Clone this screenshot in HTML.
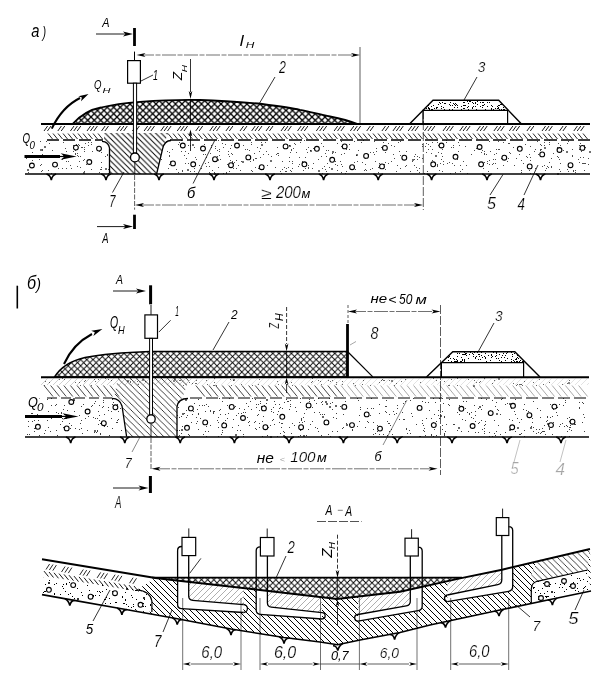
<!DOCTYPE html>
<html><head><meta charset="utf-8"><style>
html,body{margin:0;padding:0;background:#fff;}
svg{display:block;filter:grayscale(1);}
</style></head><body>
<svg width="604" height="680" viewBox="0 0 604 680">
<rect width="604" height="680" fill="#fff"/>

<defs>
<pattern id="xh" patternUnits="userSpaceOnUse" width="6.5" height="6.5">
<path d="M-1,-1 L7.5,7.5 M-1,7.5 L7.5,-1" stroke="#000" stroke-width="1.3"/>
</pattern>
<pattern id="xh2" patternUnits="userSpaceOnUse" width="6.2" height="6.2">
<path d="M-1,-1 L7.2,7.2 M-1,7.2 L7.2,-1" stroke="#000" stroke-width="0.9"/>
</pattern>
<pattern id="bsA" patternUnits="userSpaceOnUse" width="6" height="6">
<path d="M-1,-1 L7,7 M5,-1 L7,1 M-1,5 L1,7" stroke="#000" stroke-width="1.0"/>
</pattern>
<pattern id="bsb" patternUnits="userSpaceOnUse" width="6.2" height="6.2">
<path d="M-1,-1 L7.2,7.2 M5.2,-1 L7.2,1 M-1,5.2 L1,7.2" stroke="#000" stroke-width="0.75"/>
</pattern>
<pattern id="bs" patternUnits="userSpaceOnUse" width="5.6" height="5.6">
<path d="M-1,-1 L6.6,6.6 M4.6,-1 L6.6,1 M-1,4.6 L1,6.6" stroke="#000" stroke-width="0.95"/>
</pattern>
<pattern id="bsl" patternUnits="userSpaceOnUse" width="5.6" height="5.6">
<path d="M-1,-1 L6.6,6.6 M4.6,-1 L6.6,1 M-1,4.6 L1,6.6" stroke="#000" stroke-width="0.7" stroke-opacity="0.45"/>
</pattern>
<pattern id="fsl" patternUnits="userSpaceOnUse" width="6" height="6">
<path d="M-1,7 L7,-1 M5,7 L7,5 M-1,1 L1,-1" stroke="#000" stroke-width="0.7" stroke-opacity="0.45"/>
</pattern>
</defs>

<text font-family="Liberation Sans" font-style="italic" font-size="18.18" transform="translate(31.30,37.22) scale(0.813,1)">a</text>
<text font-family="Liberation Sans" font-style="italic" font-size="15.61" transform="translate(42.58,37.92) scale(0.692,1)">)</text>
<text font-family="Liberation Sans" font-style="italic" font-size="13.62" transform="translate(102.15,26.90) scale(0.801,1)">A</text>
<line x1="96.0" y1="34.0" x2="128.0" y2="34.0" stroke="#000" stroke-width="0.9"/>
<polygon points="133.0,34.0 123.0,36.5 125.5,34.0 123.0,31.5" fill="#000"/>
<line x1="134.5" y1="28.0" x2="134.5" y2="46.0" stroke="#000" stroke-width="2.8"/>
<line x1="134.5" y1="51.6" x2="134.5" y2="60.2" stroke="#000" stroke-width="1.0"/>
<rect x="127.6" y="60.6" width="12.8" height="22.6" fill="#fff" stroke="#000" stroke-width="1.2"/>
<text font-family="Liberation Sans" font-style="italic" font-size="13.26" transform="translate(94.00,89.28) scale(0.725,1)">Q</text>
<text font-family="Liberation Sans" font-style="italic" font-size="8.12" transform="translate(102.50,93.40) scale(1.360,1)">H</text>
<path d="M51.8,128.6 Q62,107 80,98" fill="none" stroke="#000" stroke-width="2.0" />
<polygon points="88.5,94.0 81.0,101.2 81.9,97.5 78.4,96.2" fill="#000"/>
<polygon points="104.0,133.0 168.0,133.0 162.6,148.8 156.6,174.0 109.5,174.0 109.5,148.0 104.0,141.0" fill="url(#bs)" stroke="none" stroke-width="0" />
<path d="M62,159.5h1 M64,157.5h1 M40,157.5h1 M91,144.5h1 M32,167.5h1 M28,172.5h1 M79,161.5h1 M26,158.5h1 M63,155.5h1 M68,161.5h1 M80,156.5h1 M108,173.5h1 M84,151.5h1 M49,143.5h1 M58,168.5h1 M42,170.5h1 M107,154.5h1 M77,166.5h1 M32,152.5h1 M88,145.5h1 M33,143.5h1 M39,159.5h1 M41,164.5h1 M79,145.5h1 M42,150.5h1 M92,151.5h1 M42,154.5h1 M78,144.5h1 M42,149.5h1 M52,150.5h1 M32,160.5h1 M75,153.5h1 M105,156.5h1 M97,147.5h1 M101,167.5h1 M40,165.5h1 M41,171.5h1 M75,154.5h1 M28,172.5h1 M84,149.5h1 M75,150.5h1 M85,143.5h1 M71,168.5h1 M48,170.5h1 M26,150.5h1 M30,147.5h1 M73,145.5h1 M99,172.5h1 M83,160.5h1 M27,142.5h1 M78,156.5h1 M51,173.5h1 M70,165.5h1 M86,164.5h1 M101,152.5h1 M100,169.5h1 M91,169.5h1 M77,153.5h1 M76,144.5h1 M108,169.5h1 M57,165.5h1 M62,168.5h1 M88,142.5h1 M65,148.5h1 M66,161.5h1 M46,141.5h1 M81,147.5h1 M101,162.5h1 M99,151.5h1 M41,155.5h1 M101,169.5h1 M73,151.5h1 M66,168.5h1 M84,171.5h1 M39,155.5h1 M42,154.5h1 M66,151.5h1 M107,155.5h1 M84,159.5h1 M91,142.5h1 M63,142.5h1 M77,155.5h1 M80,167.5h1 M82,147.5h1 M40,141.5h1 M84,147.5h1" stroke="#000" stroke-width="1" stroke-opacity="0.7" fill="none" shape-rendering="crispEdges"/>
<path d="M40,150h2 M105,169h2 M83,173h2 M27,170h2 M44,147h2" stroke="#000" stroke-width="2" stroke-opacity="0.5599999999999999" fill="none" shape-rendering="crispEdges"/>
<path d="M362,162.5h1 M218,140.5h1 M275,167.5h1 M417,159.5h1 M219,155.5h1 M549,142.5h1 M188,163.5h1 M182,171.5h1 M196,173.5h1 M205,154.5h1 M292,161.5h1 M458,142.5h1 M510,153.5h1 M414,156.5h1 M169,164.5h1 M579,162.5h1 M313,163.5h1 M205,148.5h1 M378,167.5h1 M168,168.5h1 M381,147.5h1 M324,166.5h1 M394,146.5h1 M172,149.5h1 M432,142.5h1 M247,149.5h1 M572,156.5h1 M229,171.5h1 M238,165.5h1 M490,151.5h1 M424,173.5h1 M374,141.5h1 M497,168.5h1 M256,158.5h1 M428,149.5h1 M544,145.5h1 M535,149.5h1 M379,163.5h1 M249,150.5h1 M452,163.5h1 M540,154.5h1 M345,173.5h1 M427,171.5h1 M486,154.5h1 M547,166.5h1 M307,152.5h1 M400,141.5h1 M548,167.5h1 M551,158.5h1 M321,143.5h1 M291,171.5h1 M391,161.5h1 M388,163.5h1 M263,154.5h1 M453,145.5h1 M292,163.5h1 M442,171.5h1 M169,156.5h1 M234,162.5h1 M259,151.5h1 M277,147.5h1 M252,171.5h1 M459,145.5h1 M419,168.5h1 M355,169.5h1 M255,158.5h1 M327,163.5h1 M578,159.5h1 M308,165.5h1 M373,152.5h1 M215,148.5h1 M265,142.5h1 M280,171.5h1 M325,169.5h1 M295,144.5h1 M521,160.5h1 M335,161.5h1 M332,153.5h1 M329,167.5h1 M245,149.5h1 M383,142.5h1 M535,168.5h1 M474,150.5h1 M531,168.5h1 M537,141.5h1 M227,164.5h1 M238,146.5h1 M530,160.5h1 M453,158.5h1 M385,162.5h1 M375,161.5h1 M431,153.5h1 M380,164.5h1 M557,156.5h1 M455,172.5h1 M341,154.5h1 M483,168.5h1 M183,144.5h1 M181,140.5h1 M205,163.5h1 M575,172.5h1 M568,141.5h1 M557,156.5h1 M484,154.5h1 M293,148.5h1 M419,172.5h1 M488,171.5h1 M285,171.5h1 M446,140.5h1 M365,164.5h1 M484,151.5h1 M530,173.5h1 M241,161.5h1 M313,148.5h1 M422,144.5h1 M569,165.5h1 M337,143.5h1 M430,146.5h1 M414,159.5h1 M290,152.5h1 M299,157.5h1 M231,153.5h1 M296,152.5h1 M563,150.5h1 M441,153.5h1 M437,142.5h1 M200,148.5h1 M585,163.5h1 M346,149.5h1 M257,147.5h1 M432,160.5h1 M572,155.5h1 M326,156.5h1 M466,165.5h1 M384,164.5h1 M443,161.5h1 M542,166.5h1 M575,170.5h1 M519,154.5h1 M268,154.5h1 M178,144.5h1 M225,144.5h1 M321,156.5h1 M560,145.5h1 M529,170.5h1 M385,152.5h1 M551,166.5h1 M499,149.5h1 M549,144.5h1 M236,168.5h1 M370,152.5h1 M190,171.5h1 M400,168.5h1 M394,158.5h1 M501,158.5h1 M585,147.5h1 M503,165.5h1 M493,163.5h1 M438,152.5h1 M579,145.5h1 M214,172.5h1 M233,168.5h1 M580,147.5h1 M442,149.5h1 M460,165.5h1 M482,150.5h1 M426,152.5h1 M368,154.5h1 M402,158.5h1 M584,170.5h1 M534,151.5h1 M181,151.5h1 M443,164.5h1 M209,172.5h1 M232,154.5h1 M450,173.5h1 M346,171.5h1 M178,172.5h1 M442,156.5h1 M251,142.5h1 M364,170.5h1 M379,163.5h1 M492,164.5h1 M523,163.5h1 M229,156.5h1 M223,147.5h1 M232,161.5h1 M584,163.5h1 M344,153.5h1 M573,171.5h1 M438,145.5h1 M228,151.5h1 M230,148.5h1 M366,170.5h1 M194,171.5h1 M457,159.5h1 M580,157.5h1 M219,149.5h1 M263,169.5h1 M190,145.5h1 M567,169.5h1 M341,141.5h1 M211,147.5h1 M530,146.5h1 M549,140.5h1 M217,150.5h1 M346,171.5h1 M388,143.5h1 M284,167.5h1 M167,151.5h1 M222,143.5h1 M541,149.5h1 M208,162.5h1 M414,165.5h1 M345,173.5h1 M568,171.5h1 M202,149.5h1 M540,149.5h1 M363,140.5h1 M560,163.5h1 M553,153.5h1 M440,163.5h1 M541,145.5h1 M454,165.5h1 M291,150.5h1 M176,169.5h1 M326,150.5h1 M231,145.5h1 M213,161.5h1 M310,150.5h1 M203,154.5h1 M182,145.5h1 M467,173.5h1 M476,148.5h1 M583,163.5h1 M218,167.5h1 M194,147.5h1 M426,143.5h1 M481,152.5h1 M215,146.5h1 M341,146.5h1 M349,144.5h1 M361,142.5h1 M489,164.5h1 M228,154.5h1 M582,163.5h1 M182,170.5h1 M493,159.5h1 M365,169.5h1 M393,154.5h1 M410,171.5h1 M299,164.5h1 M365,158.5h1 M188,145.5h1 M425,146.5h1 M538,154.5h1 M415,154.5h1 M233,163.5h1 M583,157.5h1 M558,143.5h1 M498,149.5h1 M400,155.5h1 M354,162.5h1 M462,169.5h1 M391,145.5h1 M544,142.5h1 M210,153.5h1 M169,155.5h1 M323,146.5h1 M567,143.5h1 M432,149.5h1 M453,147.5h1 M557,147.5h1 M353,166.5h1 M487,161.5h1 M196,159.5h1 M484,153.5h1 M322,168.5h1 M446,142.5h1 M271,156.5h1 M260,157.5h1 M509,143.5h1 M527,157.5h1 M573,170.5h1 M417,156.5h1 M199,165.5h1 M412,161.5h1 M422,146.5h1 M318,159.5h1 M580,143.5h1 M292,168.5h1 M551,167.5h1 M487,163.5h1 M285,145.5h1 M328,150.5h1 M584,145.5h1 M255,167.5h1 M489,160.5h1 M525,144.5h1 M572,149.5h1 M449,162.5h1 M337,170.5h1 M231,163.5h1 M417,170.5h1 M282,169.5h1 M211,145.5h1 M513,147.5h1 M406,165.5h1 M428,144.5h1 M496,153.5h1 M416,167.5h1 M288,167.5h1 M341,164.5h1 M406,151.5h1 M290,170.5h1 M422,158.5h1 M232,162.5h1 M305,157.5h1 M437,166.5h1 M226,172.5h1 M294,143.5h1 M251,170.5h1 M276,154.5h1 M253,159.5h1 M341,172.5h1 M201,168.5h1 M278,155.5h1 M251,144.5h1 M441,159.5h1 M529,154.5h1 M540,144.5h1 M340,161.5h1 M260,148.5h1 M286,171.5h1 M471,154.5h1 M405,166.5h1 M209,166.5h1 M195,157.5h1 M549,162.5h1 M559,169.5h1 M546,168.5h1 M489,141.5h1 M403,157.5h1 M376,151.5h1 M169,152.5h1 M354,141.5h1 M558,157.5h1 M322,173.5h1 M507,161.5h1 M326,171.5h1 M545,170.5h1 M303,170.5h1 M398,142.5h1 M253,160.5h1 M298,166.5h1 M335,164.5h1 M439,170.5h1 M376,148.5h1 M357,161.5h1 M374,154.5h1 M229,171.5h1 M372,168.5h1 M588,164.5h1 M342,166.5h1 M161,159.5h1 M312,168.5h1 M540,150.5h1 M399,151.5h1 M194,168.5h1 M306,149.5h1 M370,169.5h1 M305,168.5h1 M184,155.5h1 M581,151.5h1 M300,142.5h1 M210,173.5h1 M526,156.5h1 M230,160.5h1 M188,153.5h1 M289,161.5h1 M499,149.5h1 M508,143.5h1 M397,165.5h1 M447,163.5h1 M240,170.5h1 M261,142.5h1 M498,141.5h1 M206,157.5h1 M266,151.5h1 M496,149.5h1 M579,149.5h1 M560,171.5h1 M385,169.5h1 M304,140.5h1 M419,157.5h1 M349,149.5h1 M217,156.5h1 M236,160.5h1 M458,151.5h1 M204,144.5h1 M463,161.5h1 M308,168.5h1 M514,165.5h1 M509,152.5h1 M521,172.5h1 M243,145.5h1 M289,145.5h1 M337,165.5h1 M378,172.5h1 M325,153.5h1 M219,151.5h1 M216,161.5h1 M286,168.5h1 M349,149.5h1 M437,165.5h1 M588,158.5h1 M206,166.5h1 M291,149.5h1 M289,157.5h1 M258,168.5h1 M530,157.5h1 M544,165.5h1 M460,171.5h1 M267,165.5h1 M254,153.5h1 M503,142.5h1 M356,155.5h1 M465,146.5h1 M186,158.5h1 M494,154.5h1 M226,173.5h1 M451,147.5h1 M484,162.5h1 M308,167.5h1 M437,164.5h1 M396,171.5h1 M482,164.5h1 M185,163.5h1 M212,170.5h1 M358,150.5h1 M282,161.5h1 M480,145.5h1 M516,158.5h1 M521,170.5h1 M250,161.5h1 M278,153.5h1 M166,141.5h1 M559,159.5h1 M220,159.5h1 M185,151.5h1 M495,159.5h1 M277,153.5h1 M281,173.5h1 M302,161.5h1 M508,158.5h1 M179,142.5h1 M495,163.5h1 M335,152.5h1 M308,147.5h1 M223,173.5h1" stroke="#000" stroke-width="1" stroke-opacity="0.7" fill="none" shape-rendering="crispEdges"/>
<path d="M331,169h2 M310,151h2 M435,156h2 M318,171h2 M192,145h2 M344,147h2 M187,170h2 M557,174h2 M566,152h2 M289,146h2 M242,162h2 M332,152h2 M544,148h2 M412,160h2 M214,174h2 M480,147h2 M331,169h2 M261,145h2 M589,152h2 M356,155h2 M270,161h2 M217,160h2 M170,162h2" stroke="#000" stroke-width="2" stroke-opacity="0.5599999999999999" fill="none" shape-rendering="crispEdges"/>
<path d="M109.5,173.5 L109.5,148 Q108.5,141.5 102,141.3" fill="none" stroke="#000" stroke-width="1.3" />
<path d="M156.6,174 L162.6,148.8 Q164.5,140.5 171,140.5" fill="none" stroke="#000" stroke-width="1.3" />
<circle cx="31.9" cy="165.5" r="2.4" fill="#fff" stroke="#000" stroke-width="1.1"/>
<circle cx="55" cy="164.6" r="2.4" fill="#fff" stroke="#000" stroke-width="1.1"/>
<circle cx="75.9" cy="147.6" r="2.4" fill="#fff" stroke="#000" stroke-width="1.1"/>
<circle cx="99" cy="148.6" r="2.4" fill="#fff" stroke="#000" stroke-width="1.1"/>
<circle cx="89.3" cy="162" r="2.4" fill="#fff" stroke="#000" stroke-width="1.1"/>
<circle cx="173" cy="163.4" r="2.4" fill="#fff" stroke="#000" stroke-width="1.1"/>
<circle cx="182.8" cy="145.5" r="2.4" fill="#fff" stroke="#000" stroke-width="1.1"/>
<circle cx="193.2" cy="164.3" r="2.4" fill="#fff" stroke="#000" stroke-width="1.1"/>
<circle cx="203" cy="148.5" r="2.4" fill="#fff" stroke="#000" stroke-width="1.1"/>
<circle cx="215" cy="159.2" r="2.4" fill="#fff" stroke="#000" stroke-width="1.1"/>
<circle cx="231" cy="165.2" r="2.4" fill="#fff" stroke="#000" stroke-width="1.1"/>
<circle cx="237" cy="145.5" r="2.4" fill="#fff" stroke="#000" stroke-width="1.1"/>
<circle cx="248.3" cy="157.4" r="2.4" fill="#fff" stroke="#000" stroke-width="1.1"/>
<circle cx="261.7" cy="167.2" r="2.4" fill="#fff" stroke="#000" stroke-width="1.1"/>
<circle cx="285.6" cy="146.4" r="2.4" fill="#fff" stroke="#000" stroke-width="1.1"/>
<circle cx="304.4" cy="164.3" r="2.4" fill="#fff" stroke="#000" stroke-width="1.1"/>
<circle cx="316.9" cy="148.8" r="2.4" fill="#fff" stroke="#000" stroke-width="1.1"/>
<circle cx="332.2" cy="159.8" r="2.4" fill="#fff" stroke="#000" stroke-width="1.1"/>
<circle cx="344.7" cy="146.4" r="2.4" fill="#fff" stroke="#000" stroke-width="1.1"/>
<circle cx="352.1" cy="167.2" r="2.4" fill="#fff" stroke="#000" stroke-width="1.1"/>
<circle cx="366.1" cy="155.9" r="2.4" fill="#fff" stroke="#000" stroke-width="1.1"/>
<circle cx="384.9" cy="147.9" r="2.4" fill="#fff" stroke="#000" stroke-width="1.1"/>
<circle cx="382" cy="166.4" r="2.4" fill="#fff" stroke="#000" stroke-width="1.1"/>
<circle cx="404.3" cy="157.7" r="2.4" fill="#fff" stroke="#000" stroke-width="1.1"/>
<circle cx="433.2" cy="164.3" r="2.4" fill="#fff" stroke="#000" stroke-width="1.1"/>
<circle cx="441.5" cy="145.5" r="2.4" fill="#fff" stroke="#000" stroke-width="1.1"/>
<circle cx="455.5" cy="156.8" r="2.4" fill="#fff" stroke="#000" stroke-width="1.1"/>
<circle cx="479.6" cy="147" r="2.4" fill="#fff" stroke="#000" stroke-width="1.1"/>
<circle cx="481.1" cy="164.3" r="2.4" fill="#fff" stroke="#000" stroke-width="1.1"/>
<circle cx="504.3" cy="157.7" r="2.4" fill="#fff" stroke="#000" stroke-width="1.1"/>
<circle cx="519.8" cy="148.8" r="2.4" fill="#fff" stroke="#000" stroke-width="1.1"/>
<circle cx="529.7" cy="166.4" r="2.4" fill="#fff" stroke="#000" stroke-width="1.1"/>
<circle cx="542.2" cy="154.4" r="2.4" fill="#fff" stroke="#000" stroke-width="1.1"/>
<circle cx="559.5" cy="150" r="2.4" fill="#fff" stroke="#000" stroke-width="1.1"/>
<circle cx="570.5" cy="165.2" r="2.4" fill="#fff" stroke="#000" stroke-width="1.1"/>
<circle cx="582.4" cy="147.9" r="2.4" fill="#fff" stroke="#000" stroke-width="1.1"/>
<line x1="25.0" y1="174.0" x2="590.0" y2="174.0" stroke="#000" stroke-width="1.6"/>
<path d="M46.5,174.0 Q50.3,175.0 51.3,180.0 Q52.3,175.0 56.1,174.0" fill="none" stroke="#000" stroke-width="1.6" />
<path d="M101.2,174.0 Q105.0,175.0 106.0,180.0 Q107.0,175.0 110.8,174.0" fill="none" stroke="#000" stroke-width="1.6" />
<path d="M154.2,174.0 Q158.0,175.0 159.0,180.0 Q160.0,175.0 163.8,174.0" fill="none" stroke="#000" stroke-width="1.6" />
<path d="M209.2,174.0 Q213.0,175.0 214.0,180.0 Q215.0,175.0 218.8,174.0" fill="none" stroke="#000" stroke-width="1.6" />
<path d="M265.2,174.0 Q269.0,175.0 270.0,180.0 Q271.0,175.0 274.8,174.0" fill="none" stroke="#000" stroke-width="1.6" />
<path d="M318.8,174.0 Q322.6,175.0 323.6,180.0 Q324.6,175.0 328.4,174.0" fill="none" stroke="#000" stroke-width="1.6" />
<path d="M373.4,174.0 Q377.2,175.0 378.2,180.0 Q379.2,175.0 383.0,174.0" fill="none" stroke="#000" stroke-width="1.6" />
<path d="M426.8,174.0 Q430.6,175.0 431.6,180.0 Q432.6,175.0 436.4,174.0" fill="none" stroke="#000" stroke-width="1.6" />
<path d="M482.2,174.0 Q486.0,175.0 487.0,180.0 Q488.0,175.0 491.8,174.0" fill="none" stroke="#000" stroke-width="1.6" />
<path d="M535.7,174.0 Q539.5,175.0 540.5,180.0 Q541.5,175.0 545.3,174.0" fill="none" stroke="#000" stroke-width="1.6" />
<line x1="44.0" y1="131.0" x2="47.6" y2="126.0" stroke="#000" stroke-width="0.9"/>
<line x1="47.4" y1="131.0" x2="51.0" y2="126.0" stroke="#000" stroke-width="0.9"/>
<line x1="57.8" y1="131.0" x2="61.4" y2="126.0" stroke="#000" stroke-width="0.9"/>
<line x1="61.2" y1="131.0" x2="64.8" y2="126.0" stroke="#000" stroke-width="0.9"/>
<line x1="70.4" y1="131.0" x2="74.0" y2="126.0" stroke="#000" stroke-width="0.9"/>
<line x1="73.8" y1="131.0" x2="77.4" y2="126.0" stroke="#000" stroke-width="0.9"/>
<line x1="77.2" y1="131.0" x2="80.8" y2="126.0" stroke="#000" stroke-width="0.9"/>
<line x1="87.0" y1="131.0" x2="90.6" y2="126.0" stroke="#000" stroke-width="0.9"/>
<line x1="90.4" y1="131.0" x2="94.0" y2="126.0" stroke="#000" stroke-width="0.9"/>
<line x1="93.8" y1="131.0" x2="97.4" y2="126.0" stroke="#000" stroke-width="0.9"/>
<line x1="101.5" y1="131.0" x2="105.1" y2="126.0" stroke="#000" stroke-width="0.9"/>
<line x1="104.9" y1="131.0" x2="108.5" y2="126.0" stroke="#000" stroke-width="0.9"/>
<line x1="116.9" y1="131.0" x2="120.5" y2="126.0" stroke="#000" stroke-width="0.9"/>
<line x1="120.3" y1="131.0" x2="123.9" y2="126.0" stroke="#000" stroke-width="0.9"/>
<line x1="123.7" y1="131.0" x2="127.3" y2="126.0" stroke="#000" stroke-width="0.9"/>
<line x1="132.4" y1="131.0" x2="136.0" y2="126.0" stroke="#000" stroke-width="0.9"/>
<line x1="135.8" y1="131.0" x2="139.4" y2="126.0" stroke="#000" stroke-width="0.9"/>
<line x1="144.1" y1="131.0" x2="147.7" y2="126.0" stroke="#000" stroke-width="0.9"/>
<line x1="147.5" y1="131.0" x2="151.1" y2="126.0" stroke="#000" stroke-width="0.9"/>
<line x1="150.9" y1="131.0" x2="154.5" y2="126.0" stroke="#000" stroke-width="0.9"/>
<line x1="160.7" y1="131.0" x2="164.3" y2="126.0" stroke="#000" stroke-width="0.9"/>
<line x1="164.1" y1="131.0" x2="167.7" y2="126.0" stroke="#000" stroke-width="0.9"/>
<line x1="167.5" y1="131.0" x2="171.1" y2="126.0" stroke="#000" stroke-width="0.9"/>
<line x1="177.2" y1="131.0" x2="180.8" y2="126.0" stroke="#000" stroke-width="0.9"/>
<line x1="180.6" y1="131.0" x2="184.2" y2="126.0" stroke="#000" stroke-width="0.9"/>
<line x1="184.0" y1="131.0" x2="187.6" y2="126.0" stroke="#000" stroke-width="0.9"/>
<line x1="195.7" y1="131.0" x2="199.3" y2="126.0" stroke="#000" stroke-width="0.9"/>
<line x1="199.1" y1="131.0" x2="202.7" y2="126.0" stroke="#000" stroke-width="0.9"/>
<line x1="209.7" y1="131.0" x2="213.3" y2="126.0" stroke="#000" stroke-width="0.9"/>
<line x1="213.1" y1="131.0" x2="216.7" y2="126.0" stroke="#000" stroke-width="0.9"/>
<line x1="216.5" y1="131.0" x2="220.1" y2="126.0" stroke="#000" stroke-width="0.9"/>
<line x1="225.9" y1="131.0" x2="229.5" y2="126.0" stroke="#000" stroke-width="0.9"/>
<line x1="229.3" y1="131.0" x2="232.9" y2="126.0" stroke="#000" stroke-width="0.9"/>
<line x1="240.0" y1="131.0" x2="243.6" y2="126.0" stroke="#000" stroke-width="0.9"/>
<line x1="243.4" y1="131.0" x2="247.0" y2="126.0" stroke="#000" stroke-width="0.9"/>
<line x1="251.6" y1="131.0" x2="255.2" y2="126.0" stroke="#000" stroke-width="0.9"/>
<line x1="255.0" y1="131.0" x2="258.6" y2="126.0" stroke="#000" stroke-width="0.9"/>
<line x1="258.4" y1="131.0" x2="262.0" y2="126.0" stroke="#000" stroke-width="0.9"/>
<line x1="266.0" y1="131.0" x2="269.6" y2="126.0" stroke="#000" stroke-width="0.9"/>
<line x1="269.4" y1="131.0" x2="273.0" y2="126.0" stroke="#000" stroke-width="0.9"/>
<line x1="281.0" y1="131.0" x2="284.6" y2="126.0" stroke="#000" stroke-width="0.9"/>
<line x1="284.4" y1="131.0" x2="288.0" y2="126.0" stroke="#000" stroke-width="0.9"/>
<line x1="287.8" y1="131.0" x2="291.4" y2="126.0" stroke="#000" stroke-width="0.9"/>
<line x1="297.5" y1="131.0" x2="301.1" y2="126.0" stroke="#000" stroke-width="0.9"/>
<line x1="300.9" y1="131.0" x2="304.5" y2="126.0" stroke="#000" stroke-width="0.9"/>
<line x1="304.3" y1="131.0" x2="307.9" y2="126.0" stroke="#000" stroke-width="0.9"/>
<line x1="316.3" y1="131.0" x2="319.9" y2="126.0" stroke="#000" stroke-width="0.9"/>
<line x1="319.7" y1="131.0" x2="323.3" y2="126.0" stroke="#000" stroke-width="0.9"/>
<line x1="323.1" y1="131.0" x2="326.7" y2="126.0" stroke="#000" stroke-width="0.9"/>
<line x1="334.1" y1="131.0" x2="337.7" y2="126.0" stroke="#000" stroke-width="0.9"/>
<line x1="337.5" y1="131.0" x2="341.1" y2="126.0" stroke="#000" stroke-width="0.9"/>
<line x1="340.9" y1="131.0" x2="344.5" y2="126.0" stroke="#000" stroke-width="0.9"/>
<line x1="350.3" y1="131.0" x2="353.9" y2="126.0" stroke="#000" stroke-width="0.9"/>
<line x1="353.7" y1="131.0" x2="357.3" y2="126.0" stroke="#000" stroke-width="0.9"/>
<line x1="357.1" y1="131.0" x2="360.7" y2="126.0" stroke="#000" stroke-width="0.9"/>
<line x1="366.7" y1="131.0" x2="370.3" y2="126.0" stroke="#000" stroke-width="0.9"/>
<line x1="370.1" y1="131.0" x2="373.7" y2="126.0" stroke="#000" stroke-width="0.9"/>
<line x1="381.9" y1="131.0" x2="385.5" y2="126.0" stroke="#000" stroke-width="0.9"/>
<line x1="385.3" y1="131.0" x2="388.9" y2="126.0" stroke="#000" stroke-width="0.9"/>
<line x1="392.9" y1="131.0" x2="396.5" y2="126.0" stroke="#000" stroke-width="0.9"/>
<line x1="396.3" y1="131.0" x2="399.9" y2="126.0" stroke="#000" stroke-width="0.9"/>
<line x1="399.7" y1="131.0" x2="403.3" y2="126.0" stroke="#000" stroke-width="0.9"/>
<line x1="408.2" y1="131.0" x2="411.8" y2="126.0" stroke="#000" stroke-width="0.9"/>
<line x1="411.6" y1="131.0" x2="415.2" y2="126.0" stroke="#000" stroke-width="0.9"/>
<line x1="415.0" y1="131.0" x2="418.6" y2="126.0" stroke="#000" stroke-width="0.9"/>
<line x1="424.5" y1="131.0" x2="428.1" y2="126.0" stroke="#000" stroke-width="0.9"/>
<line x1="427.9" y1="131.0" x2="431.5" y2="126.0" stroke="#000" stroke-width="0.9"/>
<line x1="431.3" y1="131.0" x2="434.9" y2="126.0" stroke="#000" stroke-width="0.9"/>
<line x1="443.0" y1="131.0" x2="446.6" y2="126.0" stroke="#000" stroke-width="0.9"/>
<line x1="446.4" y1="131.0" x2="450.0" y2="126.0" stroke="#000" stroke-width="0.9"/>
<line x1="449.8" y1="131.0" x2="453.4" y2="126.0" stroke="#000" stroke-width="0.9"/>
<line x1="459.7" y1="131.0" x2="463.3" y2="126.0" stroke="#000" stroke-width="0.9"/>
<line x1="463.1" y1="131.0" x2="466.7" y2="126.0" stroke="#000" stroke-width="0.9"/>
<line x1="466.5" y1="131.0" x2="470.1" y2="126.0" stroke="#000" stroke-width="0.9"/>
<line x1="476.8" y1="131.0" x2="480.4" y2="126.0" stroke="#000" stroke-width="0.9"/>
<line x1="480.2" y1="131.0" x2="483.8" y2="126.0" stroke="#000" stroke-width="0.9"/>
<line x1="483.6" y1="131.0" x2="487.2" y2="126.0" stroke="#000" stroke-width="0.9"/>
<line x1="493.9" y1="131.0" x2="497.5" y2="126.0" stroke="#000" stroke-width="0.9"/>
<line x1="497.3" y1="131.0" x2="500.9" y2="126.0" stroke="#000" stroke-width="0.9"/>
<line x1="500.7" y1="131.0" x2="504.3" y2="126.0" stroke="#000" stroke-width="0.9"/>
<line x1="509.3" y1="131.0" x2="512.9" y2="126.0" stroke="#000" stroke-width="0.9"/>
<line x1="512.7" y1="131.0" x2="516.3" y2="126.0" stroke="#000" stroke-width="0.9"/>
<line x1="516.1" y1="131.0" x2="519.7" y2="126.0" stroke="#000" stroke-width="0.9"/>
<line x1="526.9" y1="131.0" x2="530.5" y2="126.0" stroke="#000" stroke-width="0.9"/>
<line x1="530.3" y1="131.0" x2="533.9" y2="126.0" stroke="#000" stroke-width="0.9"/>
<line x1="542.0" y1="131.0" x2="545.6" y2="126.0" stroke="#000" stroke-width="0.9"/>
<line x1="545.4" y1="131.0" x2="549.0" y2="126.0" stroke="#000" stroke-width="0.9"/>
<line x1="548.8" y1="131.0" x2="552.4" y2="126.0" stroke="#000" stroke-width="0.9"/>
<line x1="559.5" y1="131.0" x2="563.1" y2="126.0" stroke="#000" stroke-width="0.9"/>
<line x1="562.9" y1="131.0" x2="566.5" y2="126.0" stroke="#000" stroke-width="0.9"/>
<line x1="573.8" y1="131.0" x2="577.4" y2="126.0" stroke="#000" stroke-width="0.9"/>
<line x1="577.2" y1="131.0" x2="580.8" y2="126.0" stroke="#000" stroke-width="0.9"/>
<line x1="580.6" y1="131.0" x2="584.2" y2="126.0" stroke="#000" stroke-width="0.9"/>
<line x1="48.0" y1="133.5" x2="52.5" y2="139.0" stroke="#000" stroke-width="0.85"/>
<line x1="53.0" y1="133.5" x2="57.5" y2="139.0" stroke="#000" stroke-width="0.85"/>
<line x1="58.0" y1="133.5" x2="62.5" y2="139.0" stroke="#000" stroke-width="0.85"/>
<line x1="63.0" y1="133.5" x2="67.5" y2="139.0" stroke="#000" stroke-width="0.85"/>
<line x1="68.0" y1="133.5" x2="72.5" y2="139.0" stroke="#000" stroke-width="0.85"/>
<line x1="73.0" y1="133.5" x2="77.5" y2="139.0" stroke="#000" stroke-width="0.85"/>
<line x1="78.0" y1="133.5" x2="82.5" y2="139.0" stroke="#000" stroke-width="0.85"/>
<line x1="83.0" y1="133.5" x2="87.5" y2="139.0" stroke="#000" stroke-width="0.85"/>
<line x1="88.0" y1="133.5" x2="92.5" y2="139.0" stroke="#000" stroke-width="0.85"/>
<line x1="93.0" y1="133.5" x2="97.5" y2="139.0" stroke="#000" stroke-width="0.85"/>
<line x1="98.0" y1="133.5" x2="102.5" y2="139.0" stroke="#000" stroke-width="0.85"/>
<line x1="168.0" y1="133.5" x2="172.5" y2="139.0" stroke="#000" stroke-width="0.85"/>
<line x1="173.0" y1="133.5" x2="177.5" y2="139.0" stroke="#000" stroke-width="0.85"/>
<line x1="178.0" y1="133.5" x2="182.5" y2="139.0" stroke="#000" stroke-width="0.85"/>
<line x1="183.0" y1="133.5" x2="187.5" y2="139.0" stroke="#000" stroke-width="0.85"/>
<line x1="188.0" y1="133.5" x2="192.5" y2="139.0" stroke="#000" stroke-width="0.85"/>
<line x1="193.0" y1="133.5" x2="197.5" y2="139.0" stroke="#000" stroke-width="0.85"/>
<line x1="198.0" y1="133.5" x2="202.5" y2="139.0" stroke="#000" stroke-width="0.85"/>
<line x1="203.0" y1="133.5" x2="207.5" y2="139.0" stroke="#000" stroke-width="0.85"/>
<line x1="208.0" y1="133.5" x2="212.5" y2="139.0" stroke="#000" stroke-width="0.85"/>
<line x1="213.0" y1="133.5" x2="217.5" y2="139.0" stroke="#000" stroke-width="0.85"/>
<line x1="218.0" y1="133.5" x2="222.5" y2="139.0" stroke="#000" stroke-width="0.85"/>
<line x1="223.0" y1="133.5" x2="227.5" y2="139.0" stroke="#000" stroke-width="0.85"/>
<line x1="228.0" y1="133.5" x2="232.5" y2="139.0" stroke="#000" stroke-width="0.85"/>
<line x1="233.0" y1="133.5" x2="237.5" y2="139.0" stroke="#000" stroke-width="0.85"/>
<line x1="238.0" y1="133.5" x2="242.5" y2="139.0" stroke="#000" stroke-width="0.85"/>
<line x1="243.0" y1="133.5" x2="247.5" y2="139.0" stroke="#000" stroke-width="0.85"/>
<line x1="248.0" y1="133.5" x2="252.5" y2="139.0" stroke="#000" stroke-width="0.85"/>
<line x1="253.0" y1="133.5" x2="257.5" y2="139.0" stroke="#000" stroke-width="0.85"/>
<line x1="258.0" y1="133.5" x2="262.5" y2="139.0" stroke="#000" stroke-width="0.85"/>
<line x1="263.0" y1="133.5" x2="267.5" y2="139.0" stroke="#000" stroke-width="0.85"/>
<line x1="268.0" y1="133.5" x2="272.5" y2="139.0" stroke="#000" stroke-width="0.85"/>
<line x1="273.0" y1="133.5" x2="277.5" y2="139.0" stroke="#000" stroke-width="0.85"/>
<line x1="278.0" y1="133.5" x2="282.5" y2="139.0" stroke="#000" stroke-width="0.85"/>
<line x1="283.0" y1="133.5" x2="287.5" y2="139.0" stroke="#000" stroke-width="0.85"/>
<line x1="288.0" y1="133.5" x2="292.5" y2="139.0" stroke="#000" stroke-width="0.85"/>
<line x1="293.0" y1="133.5" x2="297.5" y2="139.0" stroke="#000" stroke-width="0.85"/>
<line x1="298.0" y1="133.5" x2="302.5" y2="139.0" stroke="#000" stroke-width="0.85"/>
<line x1="303.0" y1="133.5" x2="307.5" y2="139.0" stroke="#000" stroke-width="0.85"/>
<line x1="308.0" y1="133.5" x2="312.5" y2="139.0" stroke="#000" stroke-width="0.85"/>
<line x1="313.0" y1="133.5" x2="317.5" y2="139.0" stroke="#000" stroke-width="0.85"/>
<line x1="318.0" y1="133.5" x2="322.5" y2="139.0" stroke="#000" stroke-width="0.85"/>
<line x1="323.0" y1="133.5" x2="327.5" y2="139.0" stroke="#000" stroke-width="0.85"/>
<line x1="328.0" y1="133.5" x2="332.5" y2="139.0" stroke="#000" stroke-width="0.85"/>
<line x1="333.0" y1="133.5" x2="337.5" y2="139.0" stroke="#000" stroke-width="0.85"/>
<line x1="338.0" y1="133.5" x2="342.5" y2="139.0" stroke="#000" stroke-width="0.85"/>
<line x1="343.0" y1="133.5" x2="347.5" y2="139.0" stroke="#000" stroke-width="0.85"/>
<line x1="348.0" y1="133.5" x2="352.5" y2="139.0" stroke="#000" stroke-width="0.85"/>
<line x1="353.0" y1="133.5" x2="357.5" y2="139.0" stroke="#000" stroke-width="0.85"/>
<line x1="358.0" y1="133.5" x2="362.5" y2="139.0" stroke="#000" stroke-width="0.85"/>
<line x1="363.0" y1="133.5" x2="367.5" y2="139.0" stroke="#000" stroke-width="0.85"/>
<line x1="368.0" y1="133.5" x2="372.5" y2="139.0" stroke="#000" stroke-width="0.85"/>
<line x1="373.0" y1="133.5" x2="377.5" y2="139.0" stroke="#000" stroke-width="0.85"/>
<line x1="378.0" y1="133.5" x2="382.5" y2="139.0" stroke="#000" stroke-width="0.85"/>
<line x1="383.0" y1="133.5" x2="387.5" y2="139.0" stroke="#000" stroke-width="0.85"/>
<line x1="388.0" y1="133.5" x2="392.5" y2="139.0" stroke="#000" stroke-width="0.85"/>
<line x1="393.0" y1="133.5" x2="397.5" y2="139.0" stroke="#000" stroke-width="0.85"/>
<line x1="398.0" y1="133.5" x2="402.5" y2="139.0" stroke="#000" stroke-width="0.85"/>
<line x1="403.0" y1="133.5" x2="407.5" y2="139.0" stroke="#000" stroke-width="0.85"/>
<line x1="408.0" y1="133.5" x2="412.5" y2="139.0" stroke="#000" stroke-width="0.85"/>
<line x1="413.0" y1="133.5" x2="417.5" y2="139.0" stroke="#000" stroke-width="0.85"/>
<line x1="418.0" y1="133.5" x2="422.5" y2="139.0" stroke="#000" stroke-width="0.85"/>
<line x1="423.0" y1="133.5" x2="427.5" y2="139.0" stroke="#000" stroke-width="0.85"/>
<line x1="428.0" y1="133.5" x2="432.5" y2="139.0" stroke="#000" stroke-width="0.85"/>
<line x1="433.0" y1="133.5" x2="437.5" y2="139.0" stroke="#000" stroke-width="0.85"/>
<line x1="438.0" y1="133.5" x2="442.5" y2="139.0" stroke="#000" stroke-width="0.85"/>
<line x1="443.0" y1="133.5" x2="447.5" y2="139.0" stroke="#000" stroke-width="0.85"/>
<line x1="448.0" y1="133.5" x2="452.5" y2="139.0" stroke="#000" stroke-width="0.85"/>
<line x1="453.0" y1="133.5" x2="457.5" y2="139.0" stroke="#000" stroke-width="0.85"/>
<line x1="458.0" y1="133.5" x2="462.5" y2="139.0" stroke="#000" stroke-width="0.85"/>
<line x1="463.0" y1="133.5" x2="467.5" y2="139.0" stroke="#000" stroke-width="0.85"/>
<line x1="468.0" y1="133.5" x2="472.5" y2="139.0" stroke="#000" stroke-width="0.85"/>
<line x1="473.0" y1="133.5" x2="477.5" y2="139.0" stroke="#000" stroke-width="0.85"/>
<line x1="478.0" y1="133.5" x2="482.5" y2="139.0" stroke="#000" stroke-width="0.85"/>
<line x1="483.0" y1="133.5" x2="487.5" y2="139.0" stroke="#000" stroke-width="0.85"/>
<line x1="488.0" y1="133.5" x2="492.5" y2="139.0" stroke="#000" stroke-width="0.85"/>
<line x1="493.0" y1="133.5" x2="497.5" y2="139.0" stroke="#000" stroke-width="0.85"/>
<line x1="498.0" y1="133.5" x2="502.5" y2="139.0" stroke="#000" stroke-width="0.85"/>
<line x1="503.0" y1="133.5" x2="507.5" y2="139.0" stroke="#000" stroke-width="0.85"/>
<line x1="508.0" y1="133.5" x2="512.5" y2="139.0" stroke="#000" stroke-width="0.85"/>
<line x1="513.0" y1="133.5" x2="517.5" y2="139.0" stroke="#000" stroke-width="0.85"/>
<line x1="518.0" y1="133.5" x2="522.5" y2="139.0" stroke="#000" stroke-width="0.85"/>
<line x1="523.0" y1="133.5" x2="527.5" y2="139.0" stroke="#000" stroke-width="0.85"/>
<line x1="528.0" y1="133.5" x2="532.5" y2="139.0" stroke="#000" stroke-width="0.85"/>
<line x1="533.0" y1="133.5" x2="537.5" y2="139.0" stroke="#000" stroke-width="0.85"/>
<line x1="538.0" y1="133.5" x2="542.5" y2="139.0" stroke="#000" stroke-width="0.85"/>
<line x1="543.0" y1="133.5" x2="547.5" y2="139.0" stroke="#000" stroke-width="0.85"/>
<line x1="548.0" y1="133.5" x2="552.5" y2="139.0" stroke="#000" stroke-width="0.85"/>
<line x1="553.0" y1="133.5" x2="557.5" y2="139.0" stroke="#000" stroke-width="0.85"/>
<line x1="558.0" y1="133.5" x2="562.5" y2="139.0" stroke="#000" stroke-width="0.85"/>
<line x1="563.0" y1="133.5" x2="567.5" y2="139.0" stroke="#000" stroke-width="0.85"/>
<line x1="568.0" y1="133.5" x2="572.5" y2="139.0" stroke="#000" stroke-width="0.85"/>
<line x1="573.0" y1="133.5" x2="577.5" y2="139.0" stroke="#000" stroke-width="0.85"/>
<line x1="578.0" y1="133.5" x2="582.5" y2="139.0" stroke="#000" stroke-width="0.85"/>
<line x1="583.0" y1="133.5" x2="587.5" y2="139.0" stroke="#000" stroke-width="0.85"/>
<line x1="47.0" y1="140.0" x2="103.0" y2="140.0" stroke="#000" stroke-width="1.3" stroke-dasharray="12,4"/>
<line x1="170.0" y1="140.0" x2="590.0" y2="140.0" stroke="#000" stroke-width="1.3" stroke-dasharray="13,4"/>
<rect x="20" y="141" width="20" height="10" fill="#fff"/>
<text font-family="Liberation Sans" font-style="italic" font-size="15.39" transform="translate(22.50,142.98) scale(0.633,1)">Q</text>
<text font-family="Liberation Sans" font-style="italic" font-size="10.56" transform="translate(29.50,149.19) scale(0.921,1)">0</text>
<line x1="24.5" y1="156.5" x2="60.0" y2="156.5" stroke="#000" stroke-width="3.0"/>
<line x1="58.0" y1="156.5" x2="68.0" y2="156.5" stroke="#000" stroke-width="1.2"/>
<polygon points="76.6,156.5 60.6,159.7 64.6,156.5 60.6,153.3" fill="#000"/>
<path d="M72.7,123.8 C80,116 90,109.5 101,107.5 C112,104.8 125,103 140,101.8 C160,100.4 180,99.5 200,100 C220,100.5 245,102.4 262,104 C280,106.3 292,108 300,109.9 C310,112 320,114.4 330,116.5 C340,118.6 350,121.2 357,123.8 Z" fill="url(#xh)" stroke="#000" stroke-width="1.8" />
<line x1="41.0" y1="124.0" x2="590.0" y2="124.0" stroke="#000" stroke-width="2.0"/>
<rect x="133.4" y="83.2" width="3.2" height="70" fill="#fff" stroke="#000" stroke-width="1.0"/>
<circle cx="134.9" cy="157.4" r="4.4" fill="#fff" stroke="#000" stroke-width="1.3"/>
<line x1="134.8" y1="162.0" x2="134.8" y2="174.0" stroke="#000" stroke-width="0.8"/>
<line x1="134.6" y1="175.0" x2="134.6" y2="209.7" stroke="#000" stroke-width="0.8" stroke-dasharray="5,1.5" stroke-opacity="0.8"/>
<line x1="134.5" y1="214.7" x2="134.5" y2="229.0" stroke="#000" stroke-width="2.8"/>
<line x1="97.0" y1="226.6" x2="128.0" y2="226.6" stroke="#000" stroke-width="0.9"/>
<polygon points="133.0,226.6 123.0,229.1 125.5,226.6 123.0,224.1" fill="#000"/>
<text font-family="Liberation Sans" font-style="italic" font-size="13.77" transform="translate(102.27,242.50) scale(0.681,1)">A</text>
<line x1="140.0" y1="55.0" x2="355.0" y2="55.0" stroke="#000" stroke-width="0.7" stroke-dasharray="14,1.5,5,1.5" stroke-opacity="0.8"/>
<polygon points="136.5,55.0 145.5,53.0 143.2,55.0 145.5,57.0" fill="#000"/>
<polygon points="360.0,55.0 351.0,57.0 353.2,55.0 351.0,53.0" fill="#000"/>
<line x1="360.0" y1="47.0" x2="360.0" y2="123.0" stroke="#000" stroke-width="0.8" stroke-opacity="0.8"/>
<text font-family="Liberation Sans" font-style="italic" font-size="14.34" transform="translate(239.80,46.20) scale(1.224,1)">l</text>
<text font-family="Liberation Sans" font-style="italic" font-size="9.13" transform="translate(245.80,48.20) scale(1.299,1)">H</text>
<line x1="190.5" y1="59.0" x2="190.5" y2="92.0" stroke="#000" stroke-width="0.8"/>
<polygon points="190.5,99.0 188.7,91.0 190.5,93.0 192.3,91.0" fill="#000"/>
<text font-family="Liberation Sans" font-style="italic" font-size="13.62" transform="translate(182.40,80.22) rotate(-90) scale(1.012,1)">Z</text>
<text font-family="Liberation Sans" font-style="italic" font-size="7.68" transform="translate(186.90,72.20) rotate(-90) scale(1.329,1)">H</text>
<polygon points="190.5,129.5 192.3,136.5 190.5,134.8 188.7,136.5" fill="#000"/>
<line x1="190.5" y1="135.0" x2="190.5" y2="151.0" stroke="#000" stroke-width="0.8"/>
<line x1="190.5" y1="99.0" x2="190.5" y2="124.0" stroke="#000" stroke-width="0.8"/>
<line x1="140.0" y1="205.0" x2="418.0" y2="205.0" stroke="#000" stroke-width="0.7" stroke-dasharray="14,1.5,5,1.5" stroke-opacity="0.8"/>
<polygon points="135.0,205.0 144.0,203.0 141.8,205.0 144.0,207.0" fill="#000"/>
<polygon points="423.0,205.0 414.0,207.0 416.2,205.0 414.0,203.0" fill="#000"/>
<text font-family="Liberation Sans" font-style="italic" font-size="15.83" transform="translate(261.30,198.50) scale(1.217,1)" stroke="#fff" stroke-width="0.20">≥</text>
<text font-family="Liberation Sans" font-style="italic" font-size="15.92" transform="translate(275.95,197.74) scale(0.942,1)" stroke="#fff" stroke-width="0.20">200</text>
<text font-family="Liberation Sans" font-style="italic" font-size="13.21" transform="translate(301.50,197.60) scale(0.973,1)">м</text>
<line x1="423.3" y1="110.0" x2="423.3" y2="210.0" stroke="#000" stroke-width="0.8" stroke-dasharray="9,2" stroke-opacity="0.8"/>
<path d="M437,107.5h1 M463,102.5h1 M491,105.5h1 M443,100.5h1 M472,100.5h1 M442,102.5h1 M497,106.5h1 M450,105.5h1 M436,108.5h1 M501,104.5h1 M452,105.5h1 M426,108.5h1 M489,102.5h1 M498,107.5h1 M472,107.5h1 M463,108.5h1 M501,109.5h1 M454,104.5h1 M484,110.5h1 M464,105.5h1 M441,106.5h1 M475,102.5h1 M452,109.5h1 M473,103.5h1 M428,108.5h1 M454,107.5h1 M499,109.5h1 M507,109.5h1 M498,105.5h1 M444,109.5h1 M428,108.5h1 M464,108.5h1 M444,103.5h1 M437,100.5h1 M499,110.5h1 M463,102.5h1 M467,107.5h1 M441,108.5h1 M497,106.5h1 M472,108.5h1 M468,103.5h1 M473,106.5h1 M472,102.5h1 M504,109.5h1 M434,108.5h1 M433,105.5h1 M464,102.5h1 M438,104.5h1 M469,100.5h1 M497,108.5h1 M428,107.5h1 M483,102.5h1 M449,100.5h1 M449,109.5h1 M465,105.5h1 M431,106.5h1 M485,109.5h1 M482,105.5h1 M428,108.5h1 M453,103.5h1 M429,108.5h1 M461,106.5h1 M477,104.5h1 M456,104.5h1 M443,107.5h1 M484,104.5h1 M455,105.5h1 M463,105.5h1 M498,108.5h1 M487,106.5h1 M482,107.5h1 M500,104.5h1 M493,109.5h1 M449,104.5h1 M470,101.5h1 M503,107.5h1 M432,109.5h1 M440,103.5h1 M480,102.5h1 M450,102.5h1 M436,107.5h1 M473,103.5h1 M502,104.5h1 M475,103.5h1 M455,103.5h1 M491,109.5h1 M482,102.5h1 M469,101.5h1 M461,109.5h1 M434,108.5h1 M468,100.5h1 M457,105.5h1 M491,108.5h1 M498,100.5h1 M429,109.5h1 M487,102.5h1 M492,106.5h1 M463,108.5h1 M445,103.5h1 M476,109.5h1 M428,105.5h1 M439,102.5h1 M480,106.5h1 M431,109.5h1 M457,107.5h1 M467,101.5h1 M441,100.5h1 M468,106.5h1 M483,105.5h1 M495,108.5h1 M480,102.5h1 M499,105.5h1 M503,109.5h1 M475,106.5h1 M477,101.5h1 M468,109.5h1" stroke="#000" stroke-width="1" stroke-opacity="1.0" fill="none" shape-rendering="crispEdges"/>
<path d="M410,123.5 L433,100.3 L498.7,100.3 L521,123.5" fill="none" stroke="#000" stroke-width="1.4" />
<path d="M423,123.5 L423,110.3 L507.6,110.3 L507.6,123.5" fill="none" stroke="#000" stroke-width="1.2" />
<text font-family="Liberation Sans" font-style="italic" font-size="14.35" transform="translate(153.00,79.70) scale(0.628,1)">1</text>
<line x1="153.0" y1="75.0" x2="140.0" y2="81.5" stroke="#000" stroke-width="0.8"/>
<text font-family="Liberation Sans" font-style="italic" font-size="15.71" transform="translate(279.12,73.00) scale(0.788,1)" stroke="#fff" stroke-width="0.20">2</text>
<line x1="275.0" y1="77.0" x2="259.0" y2="104.0" stroke="#000" stroke-width="0.8"/>
<text font-family="Liberation Sans" font-style="italic" font-size="15.35" transform="translate(477.80,72.35) scale(0.892,1)" stroke="#fff" stroke-width="0.20">3</text>
<line x1="477.0" y1="77.0" x2="464.0" y2="100.0" stroke="#000" stroke-width="0.8"/>
<text font-family="Liberation Sans" font-style="italic" font-size="14.50" transform="translate(187.00,197.76) scale(1.009,1)">б</text>
<line x1="193.1" y1="183.5" x2="214.8" y2="140.3" stroke="#000" stroke-width="0.8"/>
<text font-family="Liberation Sans" font-style="italic" font-size="17.25" transform="translate(109.20,206.90) scale(0.658,1)" stroke="#fff" stroke-width="0.20">7</text>
<line x1="112.5" y1="192.5" x2="124.0" y2="172.0" stroke="#000" stroke-width="0.8"/>
<text font-family="Liberation Sans" font-style="italic" font-size="16.43" transform="translate(487.00,209.34) scale(0.978,1)" stroke="#fff" stroke-width="0.20">5</text>
<line x1="490.0" y1="195.0" x2="503.0" y2="174.5" stroke="#000" stroke-width="0.8"/>
<text font-family="Liberation Sans" font-style="italic" font-size="16.67" transform="translate(517.60,209.50) scale(0.800,1)" stroke="#fff" stroke-width="0.20">4</text>
<line x1="524.0" y1="195.0" x2="538.0" y2="165.0" stroke="#000" stroke-width="0.8"/>
<line x1="17.3" y1="285.7" x2="17.3" y2="308.5" stroke="#000" stroke-width="1.6"/>
<text font-family="Liberation Sans" font-style="italic" font-size="18.93" transform="translate(26.90,288.81) scale(0.852,1)">б</text>
<text font-family="Liberation Sans" font-style="italic" font-size="17.33" transform="translate(36.23,289.96) scale(0.823,1)">)</text>
<text font-family="Liberation Sans" font-style="italic" font-size="12.32" transform="translate(116.02,283.50) scale(0.852,1)">A</text>
<line x1="113.0" y1="291.0" x2="140.0" y2="291.0" stroke="#000" stroke-width="0.9"/>
<polygon points="146.0,291.0 136.0,293.5 138.5,291.0 136.0,288.5" fill="#000"/>
<line x1="150.6" y1="285.3" x2="150.6" y2="304.3" stroke="#000" stroke-width="3.0"/>
<line x1="151.0" y1="305.0" x2="151.0" y2="314.8" stroke="#000" stroke-width="0.9"/>
<rect x="144.9" y="314.9" width="12.6" height="23.4" fill="#fff" stroke="#000" stroke-width="1.2"/>
<text font-family="Liberation Sans" font-style="italic" font-size="15.84" transform="translate(109.90,328.49) scale(0.664,1)">Q</text>
<text font-family="Liberation Sans" font-style="italic" font-size="11.45" transform="translate(118.10,333.60) scale(0.807,1)">H</text>
<path d="M64,364 Q73,344 92,334" fill="none" stroke="#000" stroke-width="2.0" />
<polygon points="102.4,329.0 93.4,336.0 94.8,332.3 91.2,330.8" fill="#000"/>
<polygon points="41.0,378.5 200.0,378.5 200.0,385.0 41.0,385.0" fill="url(#fsl)" stroke="none" stroke-width="0" opacity="0.6"/>
<polygon points="200.0,378.5 589.0,378.5 589.0,385.0 200.0,385.0" fill="url(#fsl)" stroke="none" stroke-width="0" opacity="0.35"/>
<path d="M353,383.5h1 M192,383.5h1 M539,379.5h1 M379,382.5h1 M330,381.5h1 M389,380.5h1 M312,378.5h1 M444,381.5h1 M549,382.5h1 M105,378.5h1 M196,380.5h1 M451,379.5h1 M328,380.5h1 M519,384.5h1 M108,379.5h1 M214,378.5h1 M152,379.5h1 M291,382.5h1 M336,384.5h1 M79,382.5h1 M468,379.5h1 M49,382.5h1 M213,385.5h1 M130,382.5h1 M59,379.5h1 M440,381.5h1 M318,380.5h1 M258,384.5h1 M98,379.5h1 M381,380.5h1 M457,385.5h1 M278,384.5h1 M517,384.5h1 M321,384.5h1 M436,380.5h1 M189,382.5h1 M149,379.5h1 M80,385.5h1 M355,385.5h1 M44,385.5h1 M543,384.5h1 M62,378.5h1 M474,380.5h1 M241,384.5h1 M516,385.5h1 M513,383.5h1 M111,380.5h1 M312,381.5h1 M85,380.5h1 M95,381.5h1 M479,382.5h1 M84,381.5h1 M179,380.5h1 M45,381.5h1 M195,383.5h1 M64,379.5h1 M230,379.5h1 M394,385.5h1 M484,378.5h1 M476,382.5h1 M252,385.5h1 M382,379.5h1 M524,381.5h1 M196,383.5h1 M384,380.5h1 M562,384.5h1 M259,379.5h1 M130,381.5h1 M137,381.5h1 M94,379.5h1 M536,385.5h1 M91,385.5h1 M533,382.5h1 M362,384.5h1 M311,382.5h1 M336,382.5h1 M292,385.5h1 M180,380.5h1 M207,384.5h1 M520,384.5h1 M287,384.5h1 M370,385.5h1 M214,382.5h1 M492,383.5h1 M494,380.5h1 M233,380.5h1 M433,378.5h1 M214,385.5h1 M320,381.5h1 M342,384.5h1 M183,385.5h1 M277,381.5h1 M567,383.5h1 M138,384.5h1 M206,380.5h1 M363,380.5h1 M75,382.5h1 M216,385.5h1 M401,381.5h1 M383,380.5h1 M332,380.5h1 M457,378.5h1 M145,381.5h1 M569,380.5h1 M231,385.5h1 M405,379.5h1 M448,385.5h1 M342,381.5h1 M396,383.5h1 M449,385.5h1 M521,384.5h1 M480,381.5h1 M522,385.5h1 M420,382.5h1" stroke="#000" stroke-width="1" stroke-opacity="0.6" fill="none" shape-rendering="crispEdges"/>
<path d="M173,381h2 M142,380h2 M568,383h2 M498,379h2 M391,381h2 M127,381h2 M233,380h2 M473,386h2 M174,379h2" stroke="#000" stroke-width="2" stroke-opacity="0.48" fill="none" shape-rendering="crispEdges"/>
<line x1="44.0" y1="385.5" x2="53.0" y2="396.5" stroke="#000" stroke-width="0.85" stroke-opacity="0.85"/>
<line x1="50.6" y1="385.5" x2="59.6" y2="396.5" stroke="#000" stroke-width="0.85" stroke-opacity="0.85"/>
<line x1="57.2" y1="385.5" x2="66.2" y2="396.5" stroke="#000" stroke-width="0.85" stroke-opacity="0.85"/>
<line x1="63.8" y1="385.5" x2="72.8" y2="396.5" stroke="#000" stroke-width="0.85" stroke-opacity="0.85"/>
<line x1="70.4" y1="385.5" x2="79.4" y2="396.5" stroke="#000" stroke-width="0.85" stroke-opacity="0.85"/>
<line x1="77.0" y1="385.5" x2="86.0" y2="396.5" stroke="#000" stroke-width="0.85" stroke-opacity="0.85"/>
<line x1="83.6" y1="385.5" x2="92.6" y2="396.5" stroke="#000" stroke-width="0.85" stroke-opacity="0.85"/>
<line x1="90.2" y1="385.5" x2="99.2" y2="396.5" stroke="#000" stroke-width="0.85" stroke-opacity="0.85"/>
<line x1="96.8" y1="385.5" x2="105.8" y2="396.5" stroke="#000" stroke-width="0.85" stroke-opacity="0.85"/>
<line x1="103.4" y1="385.5" x2="112.4" y2="396.5" stroke="#000" stroke-width="0.85" stroke-opacity="0.85"/>
<line x1="110.0" y1="385.5" x2="119.0" y2="396.5" stroke="#000" stroke-width="0.85" stroke-opacity="0.85"/>
<line x1="195.8" y1="385.5" x2="204.8" y2="396.5" stroke="#000" stroke-width="0.85" stroke-opacity="0.85"/>
<line x1="202.4" y1="385.5" x2="211.4" y2="396.5" stroke="#000" stroke-width="0.85" stroke-opacity="0.85"/>
<line x1="209.0" y1="385.5" x2="218.0" y2="396.5" stroke="#000" stroke-width="0.85" stroke-opacity="0.85"/>
<line x1="215.6" y1="385.5" x2="224.6" y2="396.5" stroke="#000" stroke-width="0.85" stroke-opacity="0.85"/>
<line x1="222.2" y1="385.5" x2="231.2" y2="396.5" stroke="#000" stroke-width="0.85" stroke-opacity="0.85"/>
<line x1="228.8" y1="385.5" x2="237.8" y2="396.5" stroke="#000" stroke-width="0.85" stroke-opacity="0.85"/>
<line x1="235.4" y1="385.5" x2="244.4" y2="396.5" stroke="#000" stroke-width="0.85" stroke-opacity="0.85"/>
<line x1="242.0" y1="385.5" x2="251.0" y2="396.5" stroke="#000" stroke-width="0.85" stroke-opacity="0.85"/>
<line x1="248.6" y1="385.5" x2="257.6" y2="396.5" stroke="#000" stroke-width="0.85" stroke-opacity="0.85"/>
<line x1="255.2" y1="385.5" x2="264.2" y2="396.5" stroke="#000" stroke-width="0.85" stroke-opacity="0.85"/>
<line x1="261.8" y1="385.5" x2="270.8" y2="396.5" stroke="#000" stroke-width="0.85" stroke-opacity="0.85"/>
<line x1="268.4" y1="385.5" x2="277.4" y2="396.5" stroke="#000" stroke-width="0.85" stroke-opacity="0.85"/>
<line x1="275.0" y1="385.5" x2="284.0" y2="396.5" stroke="#000" stroke-width="0.85" stroke-opacity="0.85"/>
<line x1="281.6" y1="385.5" x2="290.6" y2="396.5" stroke="#000" stroke-width="0.85" stroke-opacity="0.85"/>
<line x1="288.2" y1="385.5" x2="297.2" y2="396.5" stroke="#000" stroke-width="0.85" stroke-opacity="0.85"/>
<line x1="294.8" y1="385.5" x2="303.8" y2="396.5" stroke="#000" stroke-width="0.85" stroke-opacity="0.85"/>
<line x1="301.4" y1="385.5" x2="310.4" y2="396.5" stroke="#000" stroke-width="0.85" stroke-opacity="0.85"/>
<line x1="308.0" y1="385.5" x2="317.0" y2="396.5" stroke="#000" stroke-width="0.85" stroke-opacity="0.85"/>
<line x1="314.6" y1="385.5" x2="323.6" y2="396.5" stroke="#000" stroke-width="0.85" stroke-opacity="0.85"/>
<line x1="321.2" y1="385.5" x2="330.2" y2="396.5" stroke="#000" stroke-width="0.85" stroke-opacity="0.85"/>
<line x1="327.8" y1="385.5" x2="336.8" y2="396.5" stroke="#000" stroke-width="0.85" stroke-opacity="0.85"/>
<line x1="334.4" y1="385.5" x2="343.4" y2="396.5" stroke="#000" stroke-width="0.85" stroke-opacity="0.85"/>
<line x1="341.0" y1="385.5" x2="350.0" y2="396.5" stroke="#000" stroke-width="0.85" stroke-opacity="0.4"/>
<line x1="347.6" y1="385.5" x2="356.6" y2="396.5" stroke="#000" stroke-width="0.85" stroke-opacity="0.4"/>
<line x1="354.2" y1="385.5" x2="363.2" y2="396.5" stroke="#000" stroke-width="0.85" stroke-opacity="0.4"/>
<line x1="360.8" y1="385.5" x2="369.8" y2="396.5" stroke="#000" stroke-width="0.85" stroke-opacity="0.4"/>
<line x1="367.4" y1="385.5" x2="376.4" y2="396.5" stroke="#000" stroke-width="0.85" stroke-opacity="0.4"/>
<line x1="374.0" y1="385.5" x2="383.0" y2="396.5" stroke="#000" stroke-width="0.85" stroke-opacity="0.4"/>
<line x1="380.6" y1="385.5" x2="389.6" y2="396.5" stroke="#000" stroke-width="0.85" stroke-opacity="0.4"/>
<line x1="387.2" y1="385.5" x2="396.2" y2="396.5" stroke="#000" stroke-width="0.85" stroke-opacity="0.4"/>
<line x1="393.8" y1="385.5" x2="402.8" y2="396.5" stroke="#000" stroke-width="0.85" stroke-opacity="0.4"/>
<line x1="400.4" y1="385.5" x2="409.4" y2="396.5" stroke="#000" stroke-width="0.85" stroke-opacity="0.4"/>
<line x1="407.0" y1="385.5" x2="416.0" y2="396.5" stroke="#000" stroke-width="0.85" stroke-opacity="0.4"/>
<line x1="413.6" y1="385.5" x2="422.6" y2="396.5" stroke="#000" stroke-width="0.85" stroke-opacity="0.4"/>
<line x1="420.2" y1="385.5" x2="429.2" y2="396.5" stroke="#000" stroke-width="0.85" stroke-opacity="0.4"/>
<line x1="426.8" y1="385.5" x2="435.8" y2="396.5" stroke="#000" stroke-width="0.85" stroke-opacity="0.4"/>
<line x1="433.4" y1="385.5" x2="442.4" y2="396.5" stroke="#000" stroke-width="0.85" stroke-opacity="0.4"/>
<line x1="440.0" y1="385.5" x2="449.0" y2="396.5" stroke="#000" stroke-width="0.85" stroke-opacity="0.4"/>
<line x1="446.6" y1="385.5" x2="455.6" y2="396.5" stroke="#000" stroke-width="0.85" stroke-opacity="0.4"/>
<line x1="453.2" y1="385.5" x2="462.2" y2="396.5" stroke="#000" stroke-width="0.85" stroke-opacity="0.4"/>
<line x1="459.8" y1="385.5" x2="468.8" y2="396.5" stroke="#000" stroke-width="0.85" stroke-opacity="0.4"/>
<line x1="466.4" y1="385.5" x2="475.4" y2="396.5" stroke="#000" stroke-width="0.85" stroke-opacity="0.4"/>
<line x1="473.0" y1="385.5" x2="482.0" y2="396.5" stroke="#000" stroke-width="0.85" stroke-opacity="0.4"/>
<line x1="479.6" y1="385.5" x2="488.6" y2="396.5" stroke="#000" stroke-width="0.85" stroke-opacity="0.4"/>
<line x1="486.2" y1="385.5" x2="495.2" y2="396.5" stroke="#000" stroke-width="0.85" stroke-opacity="0.4"/>
<line x1="492.8" y1="385.5" x2="501.8" y2="396.5" stroke="#000" stroke-width="0.85" stroke-opacity="0.4"/>
<line x1="499.4" y1="385.5" x2="508.4" y2="396.5" stroke="#000" stroke-width="0.85" stroke-opacity="0.4"/>
<line x1="506.0" y1="385.5" x2="515.0" y2="396.5" stroke="#000" stroke-width="0.85" stroke-opacity="0.4"/>
<line x1="512.6" y1="385.5" x2="521.6" y2="396.5" stroke="#000" stroke-width="0.85" stroke-opacity="0.4"/>
<line x1="519.2" y1="385.5" x2="528.2" y2="396.5" stroke="#000" stroke-width="0.85" stroke-opacity="0.4"/>
<line x1="525.8" y1="385.5" x2="534.8" y2="396.5" stroke="#000" stroke-width="0.85" stroke-opacity="0.4"/>
<line x1="532.4" y1="385.5" x2="541.4" y2="396.5" stroke="#000" stroke-width="0.85" stroke-opacity="0.4"/>
<line x1="539.0" y1="385.5" x2="548.0" y2="396.5" stroke="#000" stroke-width="0.85" stroke-opacity="0.4"/>
<line x1="545.6" y1="385.5" x2="554.6" y2="396.5" stroke="#000" stroke-width="0.85" stroke-opacity="0.4"/>
<line x1="552.2" y1="385.5" x2="561.2" y2="396.5" stroke="#000" stroke-width="0.85" stroke-opacity="0.4"/>
<line x1="558.8" y1="385.5" x2="567.8" y2="396.5" stroke="#000" stroke-width="0.85" stroke-opacity="0.4"/>
<line x1="565.4" y1="385.5" x2="574.4" y2="396.5" stroke="#000" stroke-width="0.85" stroke-opacity="0.4"/>
<line x1="572.0" y1="385.5" x2="581.0" y2="396.5" stroke="#000" stroke-width="0.85" stroke-opacity="0.4"/>
<line x1="578.6" y1="385.5" x2="587.6" y2="396.5" stroke="#000" stroke-width="0.85" stroke-opacity="0.4"/>
<polygon points="118.0,377.5 190.0,377.5 182.0,398.5 177.0,406.0 177.0,437.0 126.6,437.0 122.0,402.0 114.0,398.0" fill="url(#bsb)" stroke="none" stroke-width="0" />
<path d="M26,402.5h1 M94,403.5h1 M48,427.5h1 M100,423.5h1 M79,415.5h1 M27,434.5h1 M45,410.5h1 M47,420.5h1 M121,430.5h1 M45,430.5h1 M28,426.5h1 M91,406.5h1 M99,405.5h1 M47,399.5h1 M58,413.5h1 M109,435.5h1 M56,404.5h1 M80,423.5h1 M44,433.5h1 M95,401.5h1 M117,422.5h1 M45,415.5h1 M70,428.5h1 M36,401.5h1 M37,405.5h1 M97,430.5h1 M75,428.5h1 M62,421.5h1 M28,402.5h1 M98,424.5h1 M102,407.5h1 M26,412.5h1 M42,399.5h1 M112,399.5h1 M45,405.5h1 M55,405.5h1 M95,418.5h1 M65,418.5h1 M71,425.5h1 M38,402.5h1 M100,434.5h1 M83,404.5h1 M37,414.5h1 M63,409.5h1 M97,418.5h1 M104,426.5h1 M28,421.5h1 M51,405.5h1 M61,413.5h1 M64,405.5h1 M60,424.5h1 M103,400.5h1 M88,416.5h1 M120,408.5h1 M28,416.5h1 M63,427.5h1 M117,420.5h1 M103,406.5h1 M111,418.5h1 M34,420.5h1 M62,418.5h1 M93,417.5h1 M56,412.5h1 M81,406.5h1 M108,407.5h1 M29,434.5h1 M57,435.5h1 M31,407.5h1 M66,418.5h1 M39,398.5h1 M69,416.5h1 M94,432.5h1 M98,411.5h1 M34,431.5h1 M82,433.5h1 M64,414.5h1 M99,415.5h1 M107,426.5h1 M100,433.5h1 M81,428.5h1 M38,420.5h1 M113,402.5h1 M48,411.5h1 M67,410.5h1 M69,423.5h1 M43,406.5h1 M117,404.5h1 M35,428.5h1 M104,414.5h1 M34,428.5h1 M74,411.5h1 M74,400.5h1 M56,430.5h1 M103,402.5h1 M87,430.5h1 M81,420.5h1 M51,418.5h1 M85,418.5h1 M32,421.5h1 M79,429.5h1 M39,415.5h1 M71,403.5h1 M61,412.5h1 M108,410.5h1 M92,405.5h1 M112,404.5h1 M99,420.5h1 M112,428.5h1 M116,422.5h1 M42,401.5h1 M111,411.5h1 M32,413.5h1 M30,409.5h1 M31,413.5h1 M41,399.5h1 M39,435.5h1 M96,432.5h1 M50,431.5h1 M118,411.5h1 M97,431.5h1 M51,398.5h1 M118,419.5h1" stroke="#000" stroke-width="1" stroke-opacity="0.75" fill="none" shape-rendering="crispEdges"/>
<path d="M73,399h2 M29,411h2 M94,431h2" stroke="#000" stroke-width="2" stroke-opacity="0.6000000000000001" fill="none" shape-rendering="crispEdges"/>
<path d="M208,406.5h1 M547,417.5h1 M218,417.5h1 M392,434.5h1 M329,398.5h1 M229,398.5h1 M524,430.5h1 M260,401.5h1 M579,402.5h1 M322,404.5h1 M559,404.5h1 M481,420.5h1 M494,420.5h1 M312,407.5h1 M583,414.5h1 M373,429.5h1 M466,401.5h1 M449,399.5h1 M179,435.5h1 M569,417.5h1 M532,422.5h1 M386,406.5h1 M474,405.5h1 M387,421.5h1 M443,403.5h1 M569,421.5h1 M498,410.5h1 M557,415.5h1 M308,404.5h1 M210,425.5h1 M263,428.5h1 M375,433.5h1 M515,399.5h1 M252,398.5h1 M474,424.5h1 M332,402.5h1 M569,436.5h1 M359,415.5h1 M179,430.5h1 M403,403.5h1 M540,417.5h1 M533,427.5h1 M419,436.5h1 M204,405.5h1 M579,407.5h1 M471,417.5h1 M582,422.5h1 M186,417.5h1 M250,401.5h1 M556,412.5h1 M439,418.5h1 M290,406.5h1 M213,413.5h1 M526,410.5h1 M511,408.5h1 M412,416.5h1 M227,418.5h1 M360,407.5h1 M298,436.5h1 M177,415.5h1 M500,414.5h1 M569,429.5h1 M410,400.5h1 M301,418.5h1 M371,398.5h1 M379,413.5h1 M531,426.5h1 M321,402.5h1 M424,428.5h1 M436,421.5h1 M413,398.5h1 M290,400.5h1 M523,409.5h1 M434,424.5h1 M463,401.5h1 M320,414.5h1 M248,422.5h1 M208,431.5h1 M343,427.5h1 M243,436.5h1 M246,403.5h1 M402,436.5h1 M438,415.5h1 M565,402.5h1 M478,408.5h1 M484,431.5h1 M233,419.5h1 M324,414.5h1 M235,406.5h1 M227,405.5h1 M263,407.5h1 M273,419.5h1 M390,425.5h1 M255,399.5h1 M345,401.5h1 M386,400.5h1 M570,425.5h1 M520,434.5h1 M569,427.5h1 M490,410.5h1 M377,425.5h1 M283,431.5h1 M238,413.5h1 M318,398.5h1 M202,405.5h1 M288,401.5h1 M256,407.5h1 M533,431.5h1 M469,414.5h1 M257,415.5h1 M563,405.5h1 M478,423.5h1 M194,403.5h1 M425,435.5h1 M266,403.5h1 M181,433.5h1 M423,430.5h1 M218,422.5h1 M181,416.5h1 M431,418.5h1 M422,420.5h1 M403,419.5h1 M502,398.5h1 M277,414.5h1 M304,413.5h1 M220,409.5h1 M336,418.5h1 M407,433.5h1 M406,429.5h1 M249,421.5h1 M289,427.5h1 M248,406.5h1 M444,433.5h1 M294,425.5h1 M540,433.5h1 M279,404.5h1 M462,419.5h1 M544,425.5h1 M567,418.5h1 M333,417.5h1 M289,409.5h1 M481,398.5h1 M444,417.5h1 M515,414.5h1 M214,411.5h1 M282,423.5h1 M552,416.5h1 M262,436.5h1 M549,429.5h1 M240,430.5h1 M365,427.5h1 M494,433.5h1 M236,415.5h1 M270,425.5h1 M213,411.5h1 M438,410.5h1 M461,431.5h1 M258,414.5h1 M251,409.5h1 M192,414.5h1 M431,434.5h1 M373,408.5h1 M359,421.5h1 M489,436.5h1 M492,436.5h1 M485,424.5h1 M396,413.5h1 M255,428.5h1 M324,424.5h1 M429,410.5h1 M422,401.5h1 M498,425.5h1 M189,435.5h1 M200,418.5h1 M421,409.5h1 M328,434.5h1 M262,421.5h1 M260,403.5h1 M440,414.5h1 M423,425.5h1 M316,403.5h1 M553,422.5h1 M343,406.5h1 M496,431.5h1 M268,427.5h1 M303,417.5h1 M259,423.5h1 M410,433.5h1 M243,412.5h1 M386,412.5h1 M434,429.5h1 M206,404.5h1 M471,412.5h1 M544,431.5h1 M274,401.5h1 M505,432.5h1 M198,414.5h1 M310,424.5h1 M519,434.5h1 M565,400.5h1 M496,402.5h1 M459,414.5h1 M197,421.5h1 M239,408.5h1 M210,410.5h1 M281,427.5h1 M500,434.5h1 M274,424.5h1 M191,422.5h1 M244,409.5h1 M428,402.5h1 M184,413.5h1 M275,404.5h1 M550,404.5h1 M422,423.5h1 M232,427.5h1 M545,434.5h1 M435,402.5h1 M551,423.5h1 M256,429.5h1 M442,429.5h1 M377,431.5h1 M336,413.5h1 M459,405.5h1 M278,411.5h1 M187,398.5h1 M357,398.5h1 M442,411.5h1 M536,429.5h1 M453,424.5h1 M314,412.5h1 M322,401.5h1 M300,398.5h1 M512,420.5h1 M198,413.5h1 M425,402.5h1 M521,419.5h1 M273,407.5h1 M542,431.5h1 M475,411.5h1 M299,422.5h1 M424,431.5h1 M273,412.5h1 M389,414.5h1 M308,429.5h1 M370,415.5h1 M385,406.5h1 M222,401.5h1 M433,398.5h1 M259,410.5h1 M567,431.5h1 M484,428.5h1 M291,433.5h1 M241,413.5h1 M454,424.5h1 M272,420.5h1 M330,436.5h1 M213,412.5h1 M317,428.5h1 M357,426.5h1 M570,427.5h1 M177,430.5h1 M284,432.5h1 M574,424.5h1 M431,435.5h1 M332,409.5h1 M277,436.5h1 M549,428.5h1 M433,436.5h1 M263,416.5h1 M196,423.5h1 M564,426.5h1 M295,407.5h1 M312,421.5h1 M367,421.5h1 M559,426.5h1 M182,426.5h1 M495,406.5h1 M426,418.5h1 M296,411.5h1 M405,401.5h1 M557,407.5h1 M306,435.5h1 M281,423.5h1 M322,414.5h1 M444,416.5h1 M206,436.5h1 M225,414.5h1 M340,406.5h1 M387,435.5h1 M304,421.5h1 M584,431.5h1 M186,410.5h1 M280,407.5h1 M271,409.5h1 M188,434.5h1 M198,399.5h1 M234,407.5h1 M472,424.5h1 M255,421.5h1 M391,429.5h1 M521,433.5h1 M271,411.5h1 M284,402.5h1 M501,399.5h1 M319,412.5h1 M514,411.5h1 M267,435.5h1 M402,412.5h1 M342,428.5h1 M225,420.5h1 M515,431.5h1 M397,408.5h1 M217,420.5h1 M552,434.5h1 M332,431.5h1 M418,405.5h1 M337,431.5h1 M579,408.5h1 M259,427.5h1 M196,417.5h1 M399,419.5h1 M205,411.5h1 M582,402.5h1 M301,419.5h1 M475,432.5h1 M287,401.5h1 M309,401.5h1 M567,426.5h1 M485,421.5h1 M187,415.5h1 M258,404.5h1 M389,431.5h1 M373,422.5h1 M302,422.5h1 M221,434.5h1 M282,408.5h1 M286,399.5h1 M261,406.5h1 M205,431.5h1 M575,424.5h1 M301,420.5h1 M550,417.5h1 M583,403.5h1 M346,423.5h1 M219,410.5h1 M245,412.5h1 M572,422.5h1 M561,436.5h1 M475,421.5h1 M460,410.5h1 M514,411.5h1 M509,419.5h1 M219,398.5h1 M371,408.5h1 M553,409.5h1 M315,427.5h1 M238,425.5h1 M524,436.5h1 M352,429.5h1 M218,436.5h1 M389,423.5h1 M368,422.5h1 M467,412.5h1 M199,405.5h1 M383,434.5h1 M379,434.5h1 M290,404.5h1 M198,429.5h1 M517,418.5h1 M566,425.5h1 M222,430.5h1 M314,400.5h1 M228,413.5h1 M280,433.5h1 M349,424.5h1 M541,432.5h1 M179,417.5h1 M563,398.5h1 M479,422.5h1 M482,405.5h1 M468,431.5h1 M249,425.5h1 M237,430.5h1 M292,423.5h1 M540,410.5h1 M448,404.5h1 M486,399.5h1 M475,415.5h1 M379,404.5h1 M439,398.5h1 M536,433.5h1 M469,413.5h1 M420,436.5h1 M546,421.5h1 M302,422.5h1 M457,412.5h1 M495,435.5h1 M434,414.5h1 M484,433.5h1 M358,400.5h1 M300,435.5h1 M367,408.5h1 M547,416.5h1 M484,425.5h1 M537,408.5h1 M507,403.5h1 M465,420.5h1 M433,422.5h1 M254,422.5h1 M385,411.5h1 M482,429.5h1 M285,436.5h1 M393,411.5h1 M485,424.5h1 M429,410.5h1 M436,435.5h1 M210,411.5h1 M330,403.5h1 M222,432.5h1 M562,423.5h1 M203,434.5h1 M547,420.5h1 M542,428.5h1 M352,430.5h1 M343,414.5h1 M264,405.5h1 M524,404.5h1 M404,419.5h1 M309,399.5h1 M220,414.5h1 M560,424.5h1 M538,432.5h1 M465,408.5h1 M178,407.5h1 M178,436.5h1 M243,434.5h1 M411,413.5h1 M300,430.5h1 M406,428.5h1 M223,422.5h1 M442,425.5h1 M533,401.5h1 M442,398.5h1 M247,417.5h1 M539,429.5h1 M478,432.5h1 M256,404.5h1 M193,411.5h1 M397,405.5h1 M439,418.5h1 M394,414.5h1 M318,431.5h1 M473,418.5h1 M218,427.5h1 M463,407.5h1 M197,409.5h1 M532,418.5h1 M444,435.5h1 M373,434.5h1 M294,425.5h1 M457,430.5h1 M306,409.5h1 M330,436.5h1 M416,424.5h1 M571,430.5h1 M449,405.5h1 M528,411.5h1 M489,432.5h1 M279,408.5h1 M300,402.5h1 M445,431.5h1 M492,400.5h1 M388,423.5h1 M279,422.5h1 M497,409.5h1 M519,422.5h1 M444,434.5h1 M543,431.5h1 M360,409.5h1 M584,417.5h1 M321,435.5h1 M481,409.5h1 M206,426.5h1 M505,404.5h1 M446,424.5h1 M409,430.5h1" stroke="#000" stroke-width="1" stroke-opacity="0.75" fill="none" shape-rendering="crispEdges"/>
<path d="M185,400h2 M335,406h2 M325,402h2 M266,400h2 M329,407h2 M496,414h2 M346,425h2 M182,414h2 M303,436h2 M322,417h2 M270,437h2 M509,404h2 M479,407h2 M530,428h2 M440,416h2 M517,428h2 M547,424h2 M458,428h2 M509,430h2 M235,435h2 M326,404h2 M283,436h2 M339,437h2 M181,430h2" stroke="#000" stroke-width="2" stroke-opacity="0.6000000000000001" fill="none" shape-rendering="crispEdges"/>
<path d="M126.6,436.5 L122,406 Q120,398.5 112,398.3" fill="none" stroke="#000" stroke-width="1.3" />
<path d="M177,437 L177,407 Q178,398.5 188,398.5" fill="none" stroke="#000" stroke-width="1.3" />
<line x1="25.0" y1="437.0" x2="589.0" y2="437.0" stroke="#000" stroke-width="1.6"/>
<path d="M65.9,437.0 Q69.7,438.0 70.7,443.0 Q71.7,438.0 75.5,437.0" fill="none" stroke="#000" stroke-width="1.6" />
<path d="M120.0,437.0 Q123.8,438.0 124.8,443.0 Q125.8,438.0 129.6,437.0" fill="none" stroke="#000" stroke-width="1.6" />
<path d="M175.4,437.0 Q179.2,438.0 180.2,443.0 Q181.2,438.0 185.0,437.0" fill="none" stroke="#000" stroke-width="1.6" />
<path d="M229.6,437.0 Q233.4,438.0 234.4,443.0 Q235.4,438.0 239.2,437.0" fill="none" stroke="#000" stroke-width="1.6" />
<path d="M284.2,437.0 Q288.0,438.0 289.0,443.0 Q290.0,438.0 293.8,437.0" fill="none" stroke="#000" stroke-width="1.6" />
<path d="M338.6,437.0 Q342.4,438.0 343.4,443.0 Q344.4,438.0 348.2,437.0" fill="none" stroke="#000" stroke-width="1.6" />
<path d="M392.4,437.0 Q396.2,438.0 397.2,443.0 Q398.2,438.0 402.0,437.0" fill="none" stroke="#000" stroke-width="1.6" />
<path d="M447.2,437.0 Q451.0,438.0 452.0,443.0 Q453.0,438.0 456.8,437.0" fill="none" stroke="#000" stroke-width="1.6" />
<path d="M502.2,437.0 Q506.0,438.0 507.0,443.0 Q508.0,438.0 511.8,437.0" fill="none" stroke="#000" stroke-width="1.6" />
<path d="M556.2,437.0 Q560.0,438.0 561.0,443.0 Q562.0,438.0 565.8,437.0" fill="none" stroke="#000" stroke-width="1.6" />
<line x1="47.0" y1="398.0" x2="112.0" y2="398.0" stroke="#000" stroke-width="1.2" stroke-dasharray="10,4"/>
<line x1="190.0" y1="398.0" x2="589.0" y2="398.0" stroke="#000" stroke-width="1.2" stroke-dasharray="12,4"/>
<circle cx="71.3" cy="402" r="2.4" fill="#fff" stroke="#000" stroke-width="1.1"/>
<circle cx="87.6" cy="411.5" r="2.4" fill="#fff" stroke="#000" stroke-width="1.1"/>
<circle cx="115.4" cy="407.3" r="2.4" fill="#fff" stroke="#000" stroke-width="1.1"/>
<circle cx="37.9" cy="426.8" r="2.4" fill="#fff" stroke="#000" stroke-width="1.1"/>
<circle cx="66.7" cy="428.4" r="2.4" fill="#fff" stroke="#000" stroke-width="1.1"/>
<circle cx="103.8" cy="423.2" r="2.4" fill="#fff" stroke="#000" stroke-width="1.1"/>
<circle cx="190.9" cy="408.4" r="2.4" fill="#fff" stroke="#000" stroke-width="1.1"/>
<circle cx="187" cy="427.8" r="2.4" fill="#fff" stroke="#000" stroke-width="1.1"/>
<circle cx="205.2" cy="422.4" r="2.4" fill="#fff" stroke="#000" stroke-width="1.1"/>
<circle cx="224.2" cy="425.4" r="2.4" fill="#fff" stroke="#000" stroke-width="1.1"/>
<circle cx="231.7" cy="406.9" r="2.4" fill="#fff" stroke="#000" stroke-width="1.1"/>
<circle cx="243" cy="418" r="2.4" fill="#fff" stroke="#000" stroke-width="1.1"/>
<circle cx="263.9" cy="408.4" r="2.4" fill="#fff" stroke="#000" stroke-width="1.1"/>
<circle cx="265.4" cy="427.2" r="2.4" fill="#fff" stroke="#000" stroke-width="1.1"/>
<circle cx="282.3" cy="416.8" r="2.4" fill="#fff" stroke="#000" stroke-width="1.1"/>
<circle cx="301.1" cy="427.2" r="2.4" fill="#fff" stroke="#000" stroke-width="1.1"/>
<circle cx="308.6" cy="405.4" r="2.4" fill="#fff" stroke="#000" stroke-width="1.1"/>
<circle cx="326.4" cy="422.4" r="2.4" fill="#fff" stroke="#000" stroke-width="1.1"/>
<circle cx="344.3" cy="406.9" r="2.4" fill="#fff" stroke="#000" stroke-width="1.1"/>
<circle cx="366.7" cy="414.4" r="2.4" fill="#fff" stroke="#000" stroke-width="1.1"/>
<circle cx="352" cy="425.1" r="2.4" fill="#fff" stroke="#000" stroke-width="1.1"/>
<circle cx="380" cy="428.6" r="2.4" fill="#fff" stroke="#000" stroke-width="1.1"/>
<circle cx="419.6" cy="407.9" r="2.4" fill="#fff" stroke="#000" stroke-width="1.1"/>
<circle cx="433.8" cy="425.1" r="2.4" fill="#fff" stroke="#000" stroke-width="1.1"/>
<circle cx="461.4" cy="408.8" r="2.4" fill="#fff" stroke="#000" stroke-width="1.1"/>
<circle cx="490.7" cy="413.1" r="2.4" fill="#fff" stroke="#000" stroke-width="1.1"/>
<circle cx="472.6" cy="426" r="2.4" fill="#fff" stroke="#000" stroke-width="1.1"/>
<circle cx="513" cy="405.8" r="2.4" fill="#fff" stroke="#000" stroke-width="1.1"/>
<circle cx="529.4" cy="415.2" r="2.4" fill="#fff" stroke="#000" stroke-width="1.1"/>
<circle cx="512.2" cy="427.3" r="2.4" fill="#fff" stroke="#000" stroke-width="1.1"/>
<circle cx="554.4" cy="406.6" r="2.4" fill="#fff" stroke="#000" stroke-width="1.1"/>
<circle cx="551" cy="425.1" r="2.4" fill="#fff" stroke="#000" stroke-width="1.1"/>
<circle cx="572.5" cy="421.7" r="2.4" fill="#fff" stroke="#000" stroke-width="1.1"/>
<rect x="24" y="398.5" width="22" height="14.5" fill="#fff"/>
<text font-family="Liberation Sans" font-style="italic" font-size="14.49" transform="translate(28.00,407.15) scale(0.876,1)">Q</text>
<text font-family="Liberation Sans" font-style="italic" font-size="11.13" transform="translate(36.90,410.79) scale(1.053,1)">0</text>
<line x1="25.0" y1="416.4" x2="62.0" y2="416.4" stroke="#000" stroke-width="3.0"/>
<line x1="60.0" y1="416.4" x2="70.0" y2="416.4" stroke="#000" stroke-width="1.2"/>
<polygon points="78.5,416.4 62.5,419.6 66.5,416.4 62.5,413.2" fill="#000"/>
<path d="M54.6,377 C60,368 70,361 85,357.5 C100,354.5 120,352.5 150,351.5 L347.3,351.5 L347.3,377 Z" fill="url(#xh2)" stroke="#000" stroke-width="1.6" />
<line x1="41.0" y1="377.2" x2="589.0" y2="377.2" stroke="#000" stroke-width="2.0"/>
<line x1="347.5" y1="324.0" x2="347.5" y2="377.0" stroke="#000" stroke-width="2.8"/>
<line x1="347.5" y1="351.5" x2="372.8" y2="376.8" stroke="#000" stroke-width="1.2"/>
<rect x="149.6" y="338.4" width="2.9" height="76.5" fill="#fff" stroke="#000" stroke-width="1.0"/>
<circle cx="151" cy="419" r="4.2" fill="#fff" stroke="#000" stroke-width="1.3"/>
<line x1="151.0" y1="424.0" x2="151.0" y2="437.0" stroke="#000" stroke-width="0.8"/>
<line x1="151.0" y1="438.0" x2="151.0" y2="470.0" stroke="#000" stroke-width="0.8" stroke-dasharray="5,1.5" stroke-opacity="0.8"/>
<line x1="150.4" y1="476.0" x2="150.4" y2="493.0" stroke="#000" stroke-width="3.0"/>
<line x1="113.0" y1="488.0" x2="144.0" y2="488.0" stroke="#000" stroke-width="0.9"/>
<polygon points="148.5,488.0 138.5,490.5 141.0,488.0 138.5,485.5" fill="#000"/>
<text font-family="Liberation Sans" font-style="italic" font-size="17.10" transform="translate(114.99,507.80) scale(0.572,1)" stroke="#fff" stroke-width="0.20">A</text>
<text font-family="Liberation Sans" font-style="italic" font-size="14.20" transform="translate(175.30,316.20) scale(0.457,1)">1</text>
<line x1="170.6" y1="320.3" x2="158.8" y2="332.1" stroke="#000" stroke-width="0.8"/>
<text font-family="Liberation Sans" font-style="italic" font-size="13.29" transform="translate(231.12,319.30) scale(0.893,1)">2</text>
<line x1="229.0" y1="322.0" x2="213.0" y2="350.0" stroke="#000" stroke-width="0.8"/>
<text font-family="Liberation Sans" font-style="italic" font-size="16.76" transform="translate(370.60,339.13) scale(0.849,1)" stroke="#fff" stroke-width="0.20">8</text>
<line x1="356.0" y1="341.5" x2="350.0" y2="345.0" stroke="#000" stroke-width="0.7" stroke-opacity="0.5"/>
<text font-family="Liberation Sans" font-style="italic" font-size="15.49" transform="translate(495.00,320.85) scale(0.884,1)" stroke="#fff" stroke-width="0.20">3</text>
<line x1="494.0" y1="323.0" x2="478.0" y2="352.0" stroke="#000" stroke-width="0.8"/>
<text font-family="Liberation Sans" font-style="italic" font-size="12.48" transform="translate(374.40,461.18) scale(0.996,1)">б</text>
<line x1="383.0" y1="445.0" x2="407.0" y2="400.0" stroke="#000" stroke-width="0.8" stroke-opacity="0.6"/>
<text font-family="Liberation Sans" font-style="italic" font-size="15.57" transform="translate(510.60,474.44) scale(0.940,1)" fill-opacity="0.35" stroke="#fff" stroke-width="0.20">5</text>
<line x1="514.0" y1="462.0" x2="520.0" y2="440.0" stroke="#000" stroke-width="0.7" stroke-opacity="0.35"/>
<text font-family="Liberation Sans" font-style="italic" font-size="15.80" transform="translate(555.50,474.60) scale(1.084,1)" fill-opacity="0.35" stroke="#fff" stroke-width="0.20">4</text>
<line x1="560.0" y1="462.0" x2="566.0" y2="440.0" stroke="#000" stroke-width="0.7" stroke-opacity="0.35"/>
<text font-family="Liberation Sans" font-style="italic" font-size="15.51" transform="translate(124.80,468.00) scale(0.809,1)" stroke="#fff" stroke-width="0.20">7</text>
<line x1="132.0" y1="452.0" x2="140.0" y2="437.0" stroke="#000" stroke-width="0.8" stroke-opacity="0.6"/>
<line x1="286.6" y1="307.0" x2="286.6" y2="344.0" stroke="#000" stroke-width="0.8" stroke-dasharray="4,2"/>
<polygon points="286.6,351.5 284.8,343.5 286.6,345.5 288.4,343.5" fill="#000"/>
<text font-family="Liberation Sans" font-style="italic" font-size="15.07" transform="translate(279.30,328.62) rotate(-90) scale(0.603,1)" stroke="#fff" stroke-width="0.20">Z</text>
<text font-family="Liberation Sans" font-style="italic" font-size="11.01" transform="translate(282.80,320.90) rotate(-90) scale(0.964,1)">H</text>
<polygon points="286.6,377.5 288.4,384.5 286.6,382.8 284.8,384.5" fill="#000"/>
<line x1="286.6" y1="384.0" x2="286.6" y2="393.0" stroke="#000" stroke-width="0.8"/>
<line x1="286.6" y1="351.5" x2="286.6" y2="377.0" stroke="#000" stroke-width="0.8"/>
<text font-family="Liberation Sans" font-style="italic" font-size="12.73" transform="translate(370.60,302.77) scale(1.180,1)">не</text>
<text font-family="Liberation Sans" font-style="italic" font-size="13.10" transform="translate(388.30,304.10) scale(1.070,1)">&lt;</text>
<text font-family="Liberation Sans" font-style="italic" font-size="14.93" transform="translate(399.00,304.05) scale(0.803,1)">50</text>
<text font-family="Liberation Sans" font-style="italic" font-size="13.58" transform="translate(415.60,303.50) scale(1.214,1)">м</text>
<line x1="352.0" y1="311.5" x2="436.0" y2="311.5" stroke="#000" stroke-width="0.7" stroke-dasharray="14,1.5,5,1.5" stroke-opacity="0.8"/>
<polygon points="348.0,311.5 357.0,309.5 354.8,311.5 357.0,313.5" fill="#000"/>
<polygon points="440.5,311.5 431.5,313.5 433.8,311.5 431.5,309.5" fill="#000"/>
<line x1="348.0" y1="305.0" x2="348.0" y2="324.0" stroke="#000" stroke-width="0.8" stroke-dasharray="3,2" stroke-opacity="0.8"/>
<line x1="440.5" y1="305.0" x2="440.5" y2="475.0" stroke="#000" stroke-width="0.8" stroke-dasharray="9,2" stroke-opacity="0.8"/>
<text font-family="Liberation Sans" font-style="italic" font-size="14.91" transform="translate(256.70,462.75) scale(1.038,1)">не</text>
<text font-family="Liberation Sans" font-style="italic" font-size="6.90" transform="translate(279.80,461.50) scale(1.289,1)" fill-opacity="0.4">&lt;</text>
<text font-family="Liberation Sans" font-style="italic" font-size="15.35" transform="translate(290.20,462.45) scale(0.991,1)" stroke="#fff" stroke-width="0.20">100</text>
<text font-family="Liberation Sans" font-style="italic" font-size="13.21" transform="translate(317.00,461.70) scale(1.083,1)">м</text>
<line x1="156.0" y1="468.8" x2="433.0" y2="468.8" stroke="#000" stroke-width="0.7" stroke-dasharray="14,1.5,5,1.5" stroke-opacity="0.8"/>
<polygon points="151.5,468.8 160.5,466.8 158.2,468.8 160.5,470.8" fill="#000"/>
<polygon points="437.6,468.8 428.6,470.8 430.9,468.8 428.6,466.8" fill="#000"/>
<path d="M473,354.5h1 M518,358.5h1 M488,355.5h1 M490,360.5h1 M512,356.5h1 M454,359.5h1 M496,358.5h1 M507,352.5h1 M512,354.5h1 M503,353.5h1 M451,361.5h1 M468,358.5h1 M456,361.5h1 M466,353.5h1 M475,358.5h1 M474,351.5h1 M480,359.5h1 M504,357.5h1 M496,355.5h1 M514,361.5h1 M450,358.5h1 M516,358.5h1 M492,356.5h1 M478,359.5h1 M476,356.5h1 M464,354.5h1 M464,361.5h1 M516,359.5h1 M459,353.5h1 M456,359.5h1 M461,357.5h1 M469,354.5h1 M451,362.5h1 M501,357.5h1 M523,361.5h1 M521,358.5h1 M496,353.5h1 M507,352.5h1 M491,355.5h1 M519,361.5h1 M454,361.5h1 M511,361.5h1 M491,355.5h1 M499,354.5h1 M491,354.5h1 M481,352.5h1 M520,360.5h1 M511,359.5h1 M457,360.5h1 M472,353.5h1 M460,361.5h1 M453,358.5h1 M443,360.5h1 M502,355.5h1 M485,358.5h1 M482,357.5h1 M457,353.5h1 M505,360.5h1 M478,359.5h1 M474,352.5h1 M505,355.5h1 M448,355.5h1 M514,353.5h1 M448,360.5h1 M517,355.5h1 M457,361.5h1 M515,359.5h1 M518,362.5h1 M513,360.5h1 M455,361.5h1 M486,361.5h1 M462,359.5h1 M464,359.5h1 M462,360.5h1 M485,353.5h1 M465,354.5h1 M464,352.5h1 M475,357.5h1 M461,361.5h1 M496,352.5h1 M466,355.5h1 M477,352.5h1 M522,361.5h1 M495,356.5h1 M516,361.5h1 M499,360.5h1 M442,362.5h1 M479,356.5h1 M493,352.5h1 M517,361.5h1 M473,356.5h1 M522,361.5h1 M485,357.5h1 M465,353.5h1 M464,354.5h1 M448,357.5h1 M511,352.5h1 M464,360.5h1 M471,351.5h1 M448,357.5h1 M507,358.5h1 M466,362.5h1 M457,356.5h1 M462,354.5h1 M484,356.5h1 M481,355.5h1 M506,353.5h1 M479,354.5h1 M514,362.5h1 M470,352.5h1 M463,354.5h1 M517,357.5h1 M498,358.5h1 M491,357.5h1 M449,356.5h1 M452,362.5h1 M478,354.5h1 M512,362.5h1 M501,361.5h1" stroke="#000" stroke-width="1" stroke-opacity="1.0" fill="none" shape-rendering="crispEdges"/>
<path d="M426.5,377 L452.8,351.7 L514.8,351.7 L540,377" fill="none" stroke="#000" stroke-width="1.4" />
<path d="M441.4,377 L441.4,362.7 L523.6,362.7 L523.6,377" fill="none" stroke="#000" stroke-width="1.2" />
<text font-family="Liberation Sans" font-style="italic" font-size="14.35" transform="translate(325.42,514.90) scale(0.721,1)">A</text>
<line x1="337.8" y1="510.3" x2="342.8" y2="510.3" stroke="#000" stroke-width="1.0" stroke-opacity="0.5"/>
<text font-family="Liberation Sans" font-style="italic" font-size="13.77" transform="translate(345.32,515.90) scale(0.752,1)">A</text>
<line x1="317.0" y1="521.5" x2="361.6" y2="521.5" stroke="#000" stroke-width="0.9" stroke-dasharray="9,2" stroke-opacity="0.75"/>
<polygon points="42.0,559.3 155.5,578.0 170.0,579.8 260.0,590.0 337.0,599.0 400.0,591.8 460.0,578.4 502.0,569.7 590.0,549.0 591.0,591.0 555.0,598.5 500.0,610.0 430.0,625.0 400.0,632.5 360.0,640.0 337.5,644.8 320.0,642.0 284.0,637.5 231.0,629.0 176.0,618.5 123.0,609.0 70.0,599.6 42.0,594.6" fill="url(#bsA)" stroke="none" stroke-width="0" />
<polygon points="42.0,559.3 155.5,578.0 137.0,589.8 42.0,577.0" fill="#fff" stroke="none" stroke-width="0" />
<polygon points="590.0,549.0 537.0,560.5 531.0,575.0 537.0,581.3 587.6,570.0" fill="#fff" stroke="none" stroke-width="0" />
<polygon points="590.0,549.0 537.0,560.5 531.0,575.0 537.0,581.3 587.6,570.0" fill="url(#bsb)" stroke="none" stroke-width="0" />
<polygon points="188.7,581.9 243.5,588.1 243.5,604.6 188.7,600.0" fill="#fff" stroke="none" stroke-width="0" />
<polygon points="188.7,581.9 243.5,588.1 243.5,604.6 188.7,600.0" fill="url(#fsl)" stroke="none" stroke-width="0" />
<polygon points="267.4,590.9 322.0,597.2 322.0,612.7 267.4,606.8" fill="#fff" stroke="none" stroke-width="0" />
<polygon points="267.4,590.9 322.0,597.2 322.0,612.7 267.4,606.8" fill="url(#fsl)" stroke="none" stroke-width="0" />
<polygon points="358.0,596.6 410.3,589.5 410.3,605.2 358.0,614.5" fill="#fff" stroke="none" stroke-width="0" />
<polygon points="358.0,596.6 410.3,589.5 410.3,605.2 358.0,614.5" fill="url(#fsl)" stroke="none" stroke-width="0" />
<polygon points="447.3,581.2 501.8,569.7 501.8,583.8 447.3,595.0" fill="#fff" stroke="none" stroke-width="0" />
<polygon points="447.3,581.2 501.8,569.7 501.8,583.8 447.3,595.0" fill="url(#fsl)" stroke="none" stroke-width="0" />
<polygon points="42.0,577.0 100.0,584.0 137.0,589.8 147.0,593.0 151.9,601.4 151.9,612.0 123.0,609.0 70.0,599.6 42.0,594.6" fill="#fff" stroke="none" stroke-width="0" />
<path d="M68,594.5h1 M122,596.5h1 M106,589.5h1 M70,593.5h1 M143,603.5h1 M125,592.5h1 M150,605.5h1 M132,597.5h1 M43,592.5h1 M81,592.5h1 M125,599.5h1 M133,604.5h1 M144,599.5h1 M143,606.5h1 M45,591.5h1 M106,597.5h1 M122,597.5h1 M93,595.5h1 M112,591.5h1 M54,593.5h1 M116,602.5h1 M115,602.5h1 M150,604.5h1 M136,590.5h1 M104,599.5h1 M102,591.5h1 M65,591.5h1 M95,595.5h1 M115,592.5h1 M104,599.5h1 M109,598.5h1 M105,599.5h1 M99,591.5h1 M145,606.5h1 M54,594.5h1 M136,599.5h1 M132,589.5h1 M146,594.5h1 M63,584.5h1 M99,604.5h1 M56,583.5h1 M125,600.5h1 M97,591.5h1 M100,592.5h1 M105,603.5h1 M139,606.5h1 M44,591.5h1 M60,594.5h1 M124,603.5h1 M74,598.5h1 M126,604.5h1 M46,589.5h1 M128,606.5h1 M89,590.5h1 M45,584.5h1 M69,582.5h1 M133,606.5h1 M87,585.5h1 M93,596.5h1 M62,586.5h1 M135,590.5h1 M65,591.5h1 M66,584.5h1 M72,596.5h1 M49,580.5h1 M72,584.5h1 M131,607.5h1 M91,603.5h1 M82,595.5h1 M123,603.5h1 M77,588.5h1 M99,595.5h1 M54,584.5h1 M135,609.5h1 M63,588.5h1 M66,583.5h1 M131,595.5h1 M110,603.5h1 M102,585.5h1" stroke="#000" stroke-width="1" stroke-opacity="1.0" fill="none" shape-rendering="crispEdges"/>
<path d="M77,599h2 M126,589h2 M143,598h2 M48,583h2" stroke="#000" stroke-width="2" stroke-opacity="0.8" fill="none" shape-rendering="crispEdges"/>
<path d="M151.9,612 L151.9,601 Q150,591 137,589.8" fill="none" stroke="#000" stroke-width="1.2" />
<polygon points="537.0,581.3 587.6,570.0 591.0,591.0 555.0,598.5 531.0,603.5 531.0,588.0" fill="#fff" stroke="none" stroke-width="0" />
<path d="M574,586.5h1 M577,583.5h1 M587,589.5h1 M583,588.5h1 M562,587.5h1 M531,591.5h1 M538,590.5h1 M564,584.5h1 M579,578.5h1 M584,587.5h1 M535,592.5h1 M533,587.5h1 M575,590.5h1 M571,575.5h1 M533,588.5h1 M540,593.5h1 M546,597.5h1 M577,578.5h1 M542,588.5h1 M583,579.5h1 M544,593.5h1 M546,596.5h1 M564,591.5h1 M547,591.5h1 M586,573.5h1 M577,578.5h1 M580,580.5h1 M538,581.5h1 M534,587.5h1 M577,578.5h1 M571,587.5h1 M566,589.5h1 M545,596.5h1 M574,584.5h1 M587,581.5h1 M555,583.5h1 M576,572.5h1 M585,586.5h1 M549,586.5h1 M577,588.5h1 M578,591.5h1 M569,586.5h1 M547,596.5h1 M560,584.5h1 M554,596.5h1 M559,587.5h1 M538,599.5h1 M548,596.5h1 M540,600.5h1 M586,570.5h1 M543,583.5h1 M587,589.5h1 M554,592.5h1 M573,582.5h1 M538,596.5h1 M550,584.5h1" stroke="#000" stroke-width="1" stroke-opacity="1.0" fill="none" shape-rendering="crispEdges"/>
<path d="M551,592h2 M570,585h2" stroke="#000" stroke-width="2" stroke-opacity="0.8" fill="none" shape-rendering="crispEdges"/>
<path d="M531.3,603 L531.3,589 Q531.5,583 537,581.3 L587.6,570" fill="none" stroke="#000" stroke-width="1.2" />
<line x1="44.0" y1="571.1" x2="48.5" y2="576.6" stroke="#000" stroke-width="0.9"/>
<line x1="49.0" y1="572.0" x2="53.5" y2="577.5" stroke="#000" stroke-width="0.9"/>
<line x1="54.0" y1="572.8" x2="58.5" y2="578.3" stroke="#000" stroke-width="0.9"/>
<line x1="59.0" y1="573.6" x2="63.5" y2="579.1" stroke="#000" stroke-width="0.9"/>
<line x1="64.0" y1="574.4" x2="68.5" y2="579.9" stroke="#000" stroke-width="0.9"/>
<line x1="69.0" y1="575.2" x2="73.5" y2="580.7" stroke="#000" stroke-width="0.9"/>
<line x1="74.0" y1="576.1" x2="78.5" y2="581.6" stroke="#000" stroke-width="0.9"/>
<line x1="79.0" y1="576.9" x2="83.5" y2="582.4" stroke="#000" stroke-width="0.9"/>
<line x1="84.0" y1="577.7" x2="88.5" y2="583.2" stroke="#000" stroke-width="0.9"/>
<line x1="89.0" y1="578.5" x2="93.5" y2="584.0" stroke="#000" stroke-width="0.9"/>
<line x1="94.0" y1="579.4" x2="98.5" y2="584.9" stroke="#000" stroke-width="0.9"/>
<line x1="99.0" y1="580.2" x2="103.5" y2="585.7" stroke="#000" stroke-width="0.9"/>
<line x1="104.0" y1="581.0" x2="108.5" y2="586.5" stroke="#000" stroke-width="0.9"/>
<line x1="109.0" y1="581.8" x2="113.5" y2="587.3" stroke="#000" stroke-width="0.9"/>
<line x1="114.0" y1="582.7" x2="118.5" y2="588.2" stroke="#000" stroke-width="0.9"/>
<line x1="119.0" y1="583.5" x2="123.5" y2="589.0" stroke="#000" stroke-width="0.9"/>
<line x1="124.0" y1="584.3" x2="128.5" y2="589.8" stroke="#000" stroke-width="0.9"/>
<line x1="129.0" y1="585.1" x2="133.5" y2="590.6" stroke="#000" stroke-width="0.9"/>
<line x1="134.0" y1="586.0" x2="138.5" y2="591.5" stroke="#000" stroke-width="0.9"/>
<line x1="46.0" y1="569.5" x2="49.6" y2="564.0" stroke="#000" stroke-width="0.85"/>
<line x1="49.4" y1="570.0" x2="53.0" y2="564.5" stroke="#000" stroke-width="0.85"/>
<line x1="52.8" y1="570.6" x2="56.4" y2="565.1" stroke="#000" stroke-width="0.85"/>
<line x1="61.5" y1="572.0" x2="65.1" y2="566.5" stroke="#000" stroke-width="0.85"/>
<line x1="64.9" y1="572.6" x2="68.5" y2="567.1" stroke="#000" stroke-width="0.85"/>
<line x1="68.3" y1="573.1" x2="71.9" y2="567.6" stroke="#000" stroke-width="0.85"/>
<line x1="79.7" y1="575.0" x2="83.3" y2="569.5" stroke="#000" stroke-width="0.85"/>
<line x1="83.1" y1="575.6" x2="86.7" y2="570.1" stroke="#000" stroke-width="0.85"/>
<line x1="86.5" y1="576.1" x2="90.1" y2="570.6" stroke="#000" stroke-width="0.85"/>
<line x1="97.1" y1="577.9" x2="100.7" y2="572.4" stroke="#000" stroke-width="0.85"/>
<line x1="100.5" y1="578.4" x2="104.1" y2="572.9" stroke="#000" stroke-width="0.85"/>
<line x1="103.9" y1="579.0" x2="107.5" y2="573.5" stroke="#000" stroke-width="0.85"/>
<line x1="111.5" y1="580.2" x2="115.1" y2="574.7" stroke="#000" stroke-width="0.85"/>
<line x1="114.9" y1="580.8" x2="118.5" y2="575.3" stroke="#000" stroke-width="0.85"/>
<line x1="118.3" y1="581.4" x2="121.9" y2="575.9" stroke="#000" stroke-width="0.85"/>
<line x1="129.5" y1="583.2" x2="133.1" y2="577.7" stroke="#000" stroke-width="0.85"/>
<line x1="132.9" y1="583.8" x2="136.5" y2="578.3" stroke="#000" stroke-width="0.85"/>
<circle cx="48.9" cy="589.8" r="2.4" fill="#fff" stroke="#000" stroke-width="1.1"/>
<circle cx="73.2" cy="585.1" r="2.4" fill="#fff" stroke="#000" stroke-width="1.1"/>
<circle cx="90.6" cy="596.7" r="2.4" fill="#fff" stroke="#000" stroke-width="1.1"/>
<circle cx="115" cy="593.2" r="2.4" fill="#fff" stroke="#000" stroke-width="1.1"/>
<circle cx="140.5" cy="604.8" r="2.4" fill="#fff" stroke="#000" stroke-width="1.1"/>
<circle cx="541" cy="598" r="2.4" fill="#fff" stroke="#000" stroke-width="1.1"/>
<circle cx="547" cy="584" r="2.4" fill="#fff" stroke="#000" stroke-width="1.1"/>
<circle cx="564" cy="581" r="2.4" fill="#fff" stroke="#000" stroke-width="1.1"/>
<circle cx="573" cy="586" r="2.4" fill="#fff" stroke="#000" stroke-width="1.1"/>
<path d="M65.0,598.7 Q68.8,600.6 69.8,605.6 Q70.8,600.6 74.6,600.4" fill="none" stroke="#000" stroke-width="1.6" />
<path d="M117.1,608.0 Q120.9,609.8 121.9,614.8 Q122.9,609.8 126.7,609.6" fill="none" stroke="#000" stroke-width="1.6" />
<path d="M172.4,617.9 Q176.2,619.7 177.2,624.7 Q178.2,619.7 182.0,619.5" fill="none" stroke="#000" stroke-width="1.6" />
<path d="M226.2,628.2 Q230.0,630.0 231.0,635.0 Q232.0,630.0 235.8,629.8" fill="none" stroke="#000" stroke-width="1.6" />
<path d="M279.2,636.7 Q283.0,638.5 284.0,643.5 Q285.0,638.5 288.8,638.3" fill="none" stroke="#000" stroke-width="1.6" />
<path d="M333.0,645.7 Q336.8,645.7 337.8,650.7 Q338.8,645.7 342.6,643.8" fill="none" stroke="#000" stroke-width="1.6" />
<path d="M389.8,634.5 Q393.6,634.5 394.6,639.5 Q395.6,634.5 399.4,632.6" fill="none" stroke="#000" stroke-width="1.6" />
<path d="M440.7,622.6 Q444.5,622.7 445.5,627.7 Q446.5,622.7 450.3,620.7" fill="none" stroke="#000" stroke-width="1.6" />
<path d="M494.2,611.2 Q498.0,611.2 499.0,616.2 Q500.0,611.2 503.8,609.3" fill="none" stroke="#000" stroke-width="1.6" />
<path d="M547.6,600.0 Q551.4,600.0 552.4,605.0 Q553.4,600.0 557.2,598.1" fill="none" stroke="#000" stroke-width="1.6" />
<polygon points="177.6,546.5 188.7,546.5 188.7,600.0 243.5,604.6 243.5,612.5 177.6,608.5" fill="#fff" stroke="none" stroke-width="0" />
<polygon points="256.2,546.8 267.4,546.8 267.4,606.8 322.0,612.7 322.0,619.0 256.2,614.0" fill="#fff" stroke="none" stroke-width="0" />
<polygon points="422.2,547.1 410.3,547.1 410.3,605.2 358.0,614.5 358.0,621.1 422.2,609.9" fill="#fff" stroke="none" stroke-width="0" />
<polygon points="512.7,526.6 501.8,526.6 501.8,583.8 447.3,595.0 447.3,601.7 512.7,590.6" fill="#fff" stroke="none" stroke-width="0" />
<path d="M155.5,577.6 L170,579.8 L260,590 L337,599 L400,591.8 L460,578.4 L460,577.6 Z" fill="url(#xh2)" stroke="#000" stroke-width="0" stroke-opacity="0"/>
<line x1="152.0" y1="577.6" x2="462.0" y2="577.6" stroke="#000" stroke-width="1.6"/>
<polyline points="42.0,559.3 155.5,578.0 170.0,579.8 260.0,590.0 337.0,599.0 400.0,591.8 460.0,578.4 502.0,569.7 590.0,549.0" fill="none" stroke="#000" stroke-width="1.9" />
<polyline points="42.0,594.6 70.0,599.6 123.0,609.0 176.0,618.5 231.0,629.0 284.0,637.5 320.0,642.0 337.5,644.8 360.0,640.0 400.0,632.5 430.0,625.0 500.0,610.0 555.0,598.5 591.0,591.0" fill="none" stroke="#000" stroke-width="1.6" />
<rect x="182" y="537.4" width="13.7" height="18.2" fill="#fff" stroke="#000" stroke-width="1.2"/>
<line x1="188.8" y1="528.4" x2="188.8" y2="537.4" stroke="#000" stroke-width="0.9"/>
<path d="M182,546.5 L181.6,546.5 Q177.6,546.5 177.6,550.5 L177.6,604.5 Q177.6,608.5 181.6,608.7 L243.5,612.5" fill="none" stroke="#000" stroke-width="1.3" />
<path d="M188.7,555.6 L188.7,596.0 Q188.7,600.0 192.7,600.3 L243.5,604.6" fill="none" stroke="#000" stroke-width="1.3" />
<path d="M243.5,604.6 A3.9,3.9 0 0 1 243.5,612.5" fill="none" stroke="#000" stroke-width="1.3" />
<rect x="260.4" y="537.5" width="13.6" height="18.5" fill="#fff" stroke="#000" stroke-width="1.2"/>
<line x1="267.2" y1="528.5" x2="267.2" y2="537.5" stroke="#000" stroke-width="0.9"/>
<path d="M260.4,546.8 L260.2,546.8 Q256.2,546.8 256.2,550.8 L256.2,610.0 Q256.2,614.0 260.2,614.3 L322,619.0" fill="none" stroke="#000" stroke-width="1.3" />
<path d="M267.4,556.0 L267.4,602.8 Q267.4,606.8 271.4,607.2 L322,612.7" fill="none" stroke="#000" stroke-width="1.3" />
<path d="M322,612.7 A3.1,3.1 0 0 1 322,619.0" fill="none" stroke="#000" stroke-width="1.3" />
<rect x="405" y="538.2" width="13.3" height="17.8" fill="#fff" stroke="#000" stroke-width="1.2"/>
<line x1="411.6" y1="529.2" x2="411.6" y2="538.2" stroke="#000" stroke-width="0.9"/>
<path d="M418.3,547.1 L418.2,547.1 Q422.2,547.1 422.2,551.1 L422.2,605.9 Q422.2,609.9 418.2,610.6 L358,621.1" fill="none" stroke="#000" stroke-width="1.3" />
<path d="M410.3,556.0 L410.3,601.2 Q410.3,605.2 406.3,605.9 L358,614.5" fill="none" stroke="#000" stroke-width="1.3" />
<path d="M358,614.5 A3.3,3.3 0 0 0 358,621.1" fill="none" stroke="#000" stroke-width="1.3" />
<rect x="496.3" y="517.6" width="12.5" height="17.9" fill="#fff" stroke="#000" stroke-width="1.2"/>
<line x1="502.6" y1="508.6" x2="502.6" y2="517.6" stroke="#000" stroke-width="0.9"/>
<path d="M508.8,526.6 L508.70000000000005,526.6 Q512.7,526.6 512.7,530.6 L512.7,586.6 Q512.7,590.6 508.70000000000005,591.3 L447.3,601.7" fill="none" stroke="#000" stroke-width="1.3" />
<path d="M501.8,535.5 L501.8,579.8 Q501.8,583.8 497.8,584.6 L447.3,595.0" fill="none" stroke="#000" stroke-width="1.3" />
<path d="M447.3,595.0 A3.4,3.4 0 0 0 447.3,601.7" fill="none" stroke="#000" stroke-width="1.3" />
<line x1="337.5" y1="534.7" x2="337.5" y2="571.0" stroke="#000" stroke-width="0.8" stroke-dasharray="4,2"/>
<polygon points="337.5,578.0 335.7,570.0 337.5,572.0 339.3,570.0" fill="#000"/>
<text font-family="Liberation Sans" font-style="italic" font-size="13.77" transform="translate(331.50,557.70) rotate(-90) scale(1.100,1)">Z</text>
<text font-family="Liberation Sans" font-style="italic" font-size="8.70" transform="translate(335.00,549.00) rotate(-90) scale(1.110,1)">H</text>
<polygon points="337.5,599.5 339.3,606.5 337.5,604.8 335.7,606.5" fill="#000"/>
<line x1="337.5" y1="606.0" x2="337.5" y2="625.0" stroke="#000" stroke-width="0.8"/>
<line x1="337.3" y1="578.0" x2="337.3" y2="599.0" stroke="#000" stroke-width="0.8"/>
<line x1="182.7" y1="598.0" x2="182.7" y2="670.0" stroke="#000" stroke-width="0.8" stroke-opacity="0.7"/>
<line x1="241.0" y1="598.0" x2="241.0" y2="670.0" stroke="#000" stroke-width="0.8" stroke-opacity="0.7"/>
<line x1="260.0" y1="598.0" x2="260.0" y2="670.0" stroke="#000" stroke-width="0.8" stroke-opacity="0.7"/>
<line x1="320.5" y1="598.0" x2="320.5" y2="670.0" stroke="#000" stroke-width="0.8" stroke-opacity="0.7"/>
<line x1="359.4" y1="598.0" x2="359.4" y2="670.0" stroke="#000" stroke-width="0.8" stroke-opacity="0.7"/>
<line x1="417.0" y1="598.0" x2="417.0" y2="670.0" stroke="#000" stroke-width="0.8" stroke-opacity="0.7"/>
<line x1="450.7" y1="598.0" x2="450.7" y2="670.0" stroke="#000" stroke-width="0.8" stroke-opacity="0.7"/>
<line x1="508.7" y1="598.0" x2="508.7" y2="670.0" stroke="#000" stroke-width="0.8" stroke-opacity="0.7"/>
<line x1="190.7" y1="664.0" x2="233.0" y2="664.0" stroke="#000" stroke-width="0.8" stroke-opacity="0.8"/>
<polygon points="182.7,664.0 190.7,662.2 188.7,664.0 190.7,665.8" fill="#000"/>
<polygon points="241.0,664.0 233.0,665.8 235.0,664.0 233.0,662.2" fill="#000"/>
<line x1="268.0" y1="664.0" x2="312.5" y2="664.0" stroke="#000" stroke-width="0.8" stroke-opacity="0.8"/>
<polygon points="260.0,664.0 268.0,662.2 266.0,664.0 268.0,665.8" fill="#000"/>
<polygon points="320.5,664.0 312.5,665.8 314.5,664.0 312.5,662.2" fill="#000"/>
<line x1="367.4" y1="664.0" x2="409.0" y2="664.0" stroke="#000" stroke-width="0.8" stroke-opacity="0.8"/>
<polygon points="359.4,664.0 367.4,662.2 365.4,664.0 367.4,665.8" fill="#000"/>
<polygon points="417.0,664.0 409.0,665.8 411.0,664.0 409.0,662.2" fill="#000"/>
<line x1="458.7" y1="664.0" x2="500.7" y2="664.0" stroke="#000" stroke-width="0.8" stroke-opacity="0.8"/>
<polygon points="450.7,664.0 458.7,662.2 456.7,664.0 458.7,665.8" fill="#000"/>
<polygon points="508.7,664.0 500.7,665.8 502.7,664.0 500.7,662.2" fill="#000"/>
<line x1="320.5" y1="664.0" x2="359.4" y2="664.0" stroke="#000" stroke-width="0.8" stroke-opacity="0.8"/>
<text font-family="Liberation Sans" font-style="italic" font-size="17.23" transform="translate(201.30,657.66) scale(0.873,1)" stroke="#fff" stroke-width="0.20">6,0</text>
<text font-family="Liberation Sans" font-style="italic" font-size="16.75" transform="translate(273.90,657.72) scale(0.958,1)" stroke="#fff" stroke-width="0.20">6,0</text>
<text font-family="Liberation Sans" font-style="italic" font-size="13.37" transform="translate(330.90,660.26) scale(0.955,1)">0,7</text>
<text font-family="Liberation Sans" font-style="italic" font-size="15.06" transform="translate(379.70,658.04) scale(0.922,1)" stroke="#fff" stroke-width="0.20">6,0</text>
<text font-family="Liberation Sans" font-style="italic" font-size="15.66" transform="translate(469.00,657.46) scale(0.942,1)" stroke="#fff" stroke-width="0.20">6,0</text>
<text font-family="Liberation Sans" font-style="italic" font-size="16.71" transform="translate(287.53,553.40) scale(0.784,1)" stroke="#fff" stroke-width="0.20">2</text>
<line x1="286.0" y1="556.0" x2="276.0" y2="578.0" stroke="#000" stroke-width="0.8"/>
<line x1="200.9" y1="558.4" x2="189.7" y2="573.3" stroke="#000" stroke-width="0.8"/>
<text font-family="Liberation Sans" font-style="italic" font-size="14.14" transform="translate(85.80,634.16) scale(0.947,1)">5</text>
<line x1="93.0" y1="621.0" x2="110.0" y2="590.0" stroke="#000" stroke-width="0.8"/>
<text font-family="Liberation Sans" font-style="italic" font-size="16.23" transform="translate(154.00,647.00) scale(0.835,1)" stroke="#fff" stroke-width="0.20">7</text>
<line x1="163.0" y1="632.0" x2="172.0" y2="610.0" stroke="#000" stroke-width="0.8"/>
<text font-family="Liberation Sans" font-style="italic" font-size="15.36" transform="translate(532.40,630.60) scale(0.905,1)" stroke="#fff" stroke-width="0.20">7</text>
<line x1="530.0" y1="617.0" x2="516.0" y2="605.0" stroke="#000" stroke-width="0.8"/>
<text font-family="Liberation Sans" font-style="italic" font-size="16.43" transform="translate(568.30,624.34) scale(1.120,1)" stroke="#fff" stroke-width="0.20">5</text>
<line x1="575.0" y1="610.0" x2="584.0" y2="590.0" stroke="#000" stroke-width="0.8"/>
</svg></body></html>
